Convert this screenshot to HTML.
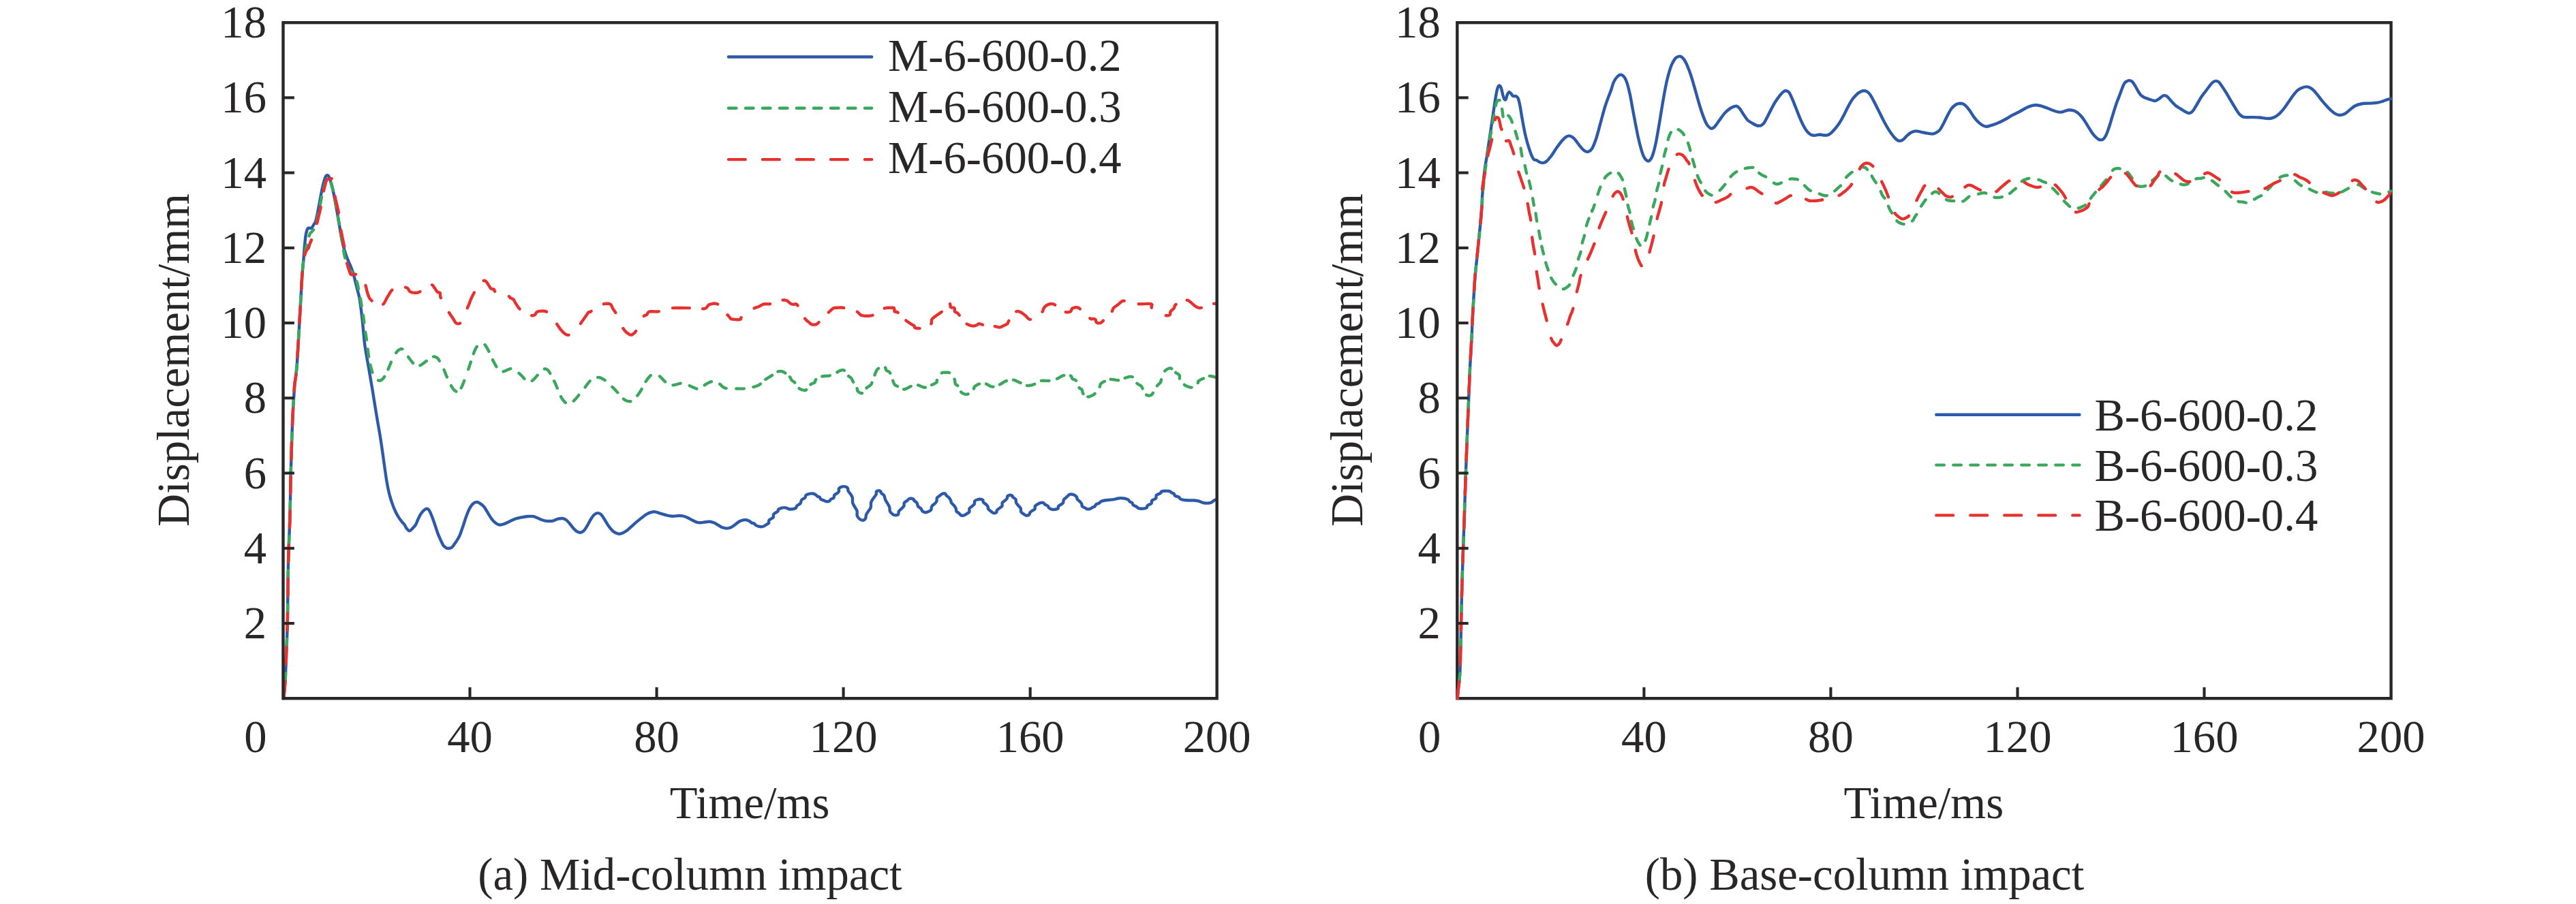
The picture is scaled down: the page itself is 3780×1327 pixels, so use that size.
<!DOCTYPE html>
<html><head><meta charset="utf-8"><title>Displacement time history</title>
<style>
html,body{margin:0;padding:0;background:#fff}
body{width:3780px;height:1327px;overflow:hidden}
svg{display:block}
svg text{font-family:"Liberation Serif",serif;font-size:66.7px;fill:#292627}
</style></head><body>
<svg width="3780" height="1327" viewBox="0 0 3780 1327">
<path d="M416.2,1025.0C416.6,1020.7 418.0,1009.8 418.6,999.0C419.2,988.2 419.7,970.0 420.1,960.0C420.5,950.0 420.7,946.5 421.0,939.0C421.3,931.5 421.6,924.9 421.8,915.0C422.0,905.1 422.1,895.4 422.3,879.5C422.5,863.6 422.7,839.6 423.2,819.7C423.7,799.8 424.8,780.1 425.4,760.0C426.0,739.9 426.2,714.1 426.6,699.0C427.0,683.9 427.2,679.2 427.5,669.2C427.8,659.2 428.0,649.2 428.4,639.3C428.8,629.3 429.1,619.5 429.6,609.5C430.1,599.5 430.9,587.1 431.4,579.6C431.8,572.1 431.8,569.7 432.3,564.7C432.8,559.7 433.8,554.7 434.4,549.7C435.0,544.7 435.4,539.8 435.8,534.8C436.2,529.8 436.2,527.4 436.7,519.9C437.1,512.4 437.4,508.6 438.5,490.0C439.6,471.4 442.0,426.2 443.1,408.1C444.3,390.1 444.7,389.7 445.4,381.6C446.0,373.5 446.5,365.7 447.1,359.5C447.7,353.2 448.2,347.9 448.9,344.0C449.6,340.1 450.4,337.8 451.1,336.2C451.8,334.7 452.3,334.9 453.3,334.7C454.3,334.4 455.9,335.5 457.1,334.7C458.3,333.8 459.4,331.2 460.4,329.6C461.4,328.0 462.1,327.9 463.1,325.2C464.0,322.4 464.9,318.0 465.9,313.0C467.0,308.0 468.1,301.2 469.2,295.3C470.4,289.4 471.5,282.8 472.6,277.6C473.7,272.4 474.9,267.6 475.9,264.3C476.9,261.1 477.7,259.3 478.5,258.1C479.4,257.0 480.0,257.0 480.8,257.3C481.5,257.6 482.1,258.0 483.0,259.9C483.8,261.8 484.8,265.1 485.8,268.8C486.9,272.4 488.1,276.9 489.2,282.0C490.3,287.2 491.4,293.8 492.5,299.7C493.6,305.6 494.7,311.2 495.8,317.4C496.9,323.7 498.0,331.1 499.1,337.3C500.2,343.6 501.3,349.9 502.4,355.0C503.5,360.2 504.6,364.4 505.8,368.3C506.9,372.2 508.0,375.3 509.1,378.3C510.2,381.2 511.3,383.4 512.4,386.0C513.5,388.6 514.6,390.8 515.7,393.8C516.8,396.7 517.9,399.8 519.0,403.7C520.1,407.6 521.2,412.6 522.3,417.0C523.5,421.4 524.7,426.4 525.7,430.3C526.6,434.1 526.9,433.2 527.9,440.0C528.9,446.8 530.6,459.8 531.8,470.8C533.0,481.8 533.7,494.4 535.3,506.2C536.9,518.0 539.3,529.8 541.3,541.6C543.3,553.4 545.3,565.2 547.3,577.0C549.2,588.8 551.0,600.6 553.0,612.4C555.0,624.2 557.0,634.9 559.0,647.8C561.0,660.7 563.6,680.2 565.0,690.0C566.4,699.8 566.5,701.1 567.5,706.6C568.4,712.1 569.7,718.5 570.8,723.2C571.9,727.9 572.9,730.9 574.1,734.8C575.4,738.7 576.6,742.6 578.3,746.4C579.9,750.3 582.0,754.6 584.1,758.0C586.1,761.5 589.2,765.2 590.7,767.2C592.2,769.1 592.2,768.3 593.2,769.7C594.2,771.0 595.3,773.9 596.5,775.5C597.8,777.1 599.3,779.1 600.7,779.3C602.0,779.4 603.3,777.8 604.8,776.3C606.3,774.8 608.4,772.7 609.8,770.5C611.2,768.3 611.9,765.6 613.1,763.0C614.3,760.4 615.7,757.1 617.3,754.7C618.8,752.4 620.8,750.2 622.2,748.9C623.7,747.6 624.8,746.8 626.0,746.8C627.3,746.8 628.4,747.0 629.7,748.9C631.0,750.8 632.5,754.6 633.8,758.0C635.2,761.5 636.6,765.6 638.0,769.7C639.4,773.7 640.8,778.4 642.1,782.1C643.5,785.8 644.9,789.0 646.3,792.1C647.7,795.1 649.1,798.3 650.4,800.4C651.8,802.4 653.2,803.4 654.6,804.2C656.0,804.9 657.4,804.9 658.7,804.8C660.1,804.8 661.4,805.0 662.9,803.7C664.4,802.4 666.1,799.7 667.9,797.0C669.7,794.4 671.9,791.6 673.7,787.9C675.5,784.2 677.0,779.3 678.7,774.6C680.3,769.9 682.0,764.3 683.6,759.7C685.3,755.1 686.9,750.6 688.6,747.3C690.3,743.9 691.8,741.5 693.6,739.8C695.4,738.1 697.6,737.1 699.4,737.0C701.2,736.8 702.6,737.8 704.4,739.0C706.2,740.1 708.2,741.6 710.2,743.9C712.1,746.3 714.1,750.0 716.0,753.1C717.9,756.1 719.9,759.7 721.8,762.2C723.7,764.7 725.7,766.6 727.6,768.0C729.5,769.4 731.5,770.3 733.4,770.5C735.4,770.7 736.9,770.2 739.2,769.3C741.6,768.5 744.8,766.8 747.5,765.5C750.3,764.2 753.1,762.7 755.8,761.7C758.6,760.7 761.1,760.3 764.1,759.7C767.2,759.1 771.0,758.3 774.1,758.0C777.1,757.8 780.2,757.8 782.4,758.0C784.6,758.3 785.4,758.9 787.3,759.7C789.3,760.5 791.8,761.9 794.0,762.7C796.2,763.5 798.4,764.3 800.6,764.7C802.8,765.1 805.3,765.1 807.3,765.0C809.2,765.0 810.3,764.9 812.2,764.3C814.2,763.8 816.7,762.2 818.9,761.7C821.1,761.1 823.6,760.8 825.5,761.0C827.5,761.2 828.8,761.9 830.5,763.0C832.2,764.2 833.5,765.8 835.5,768.0C837.4,770.2 840.2,774.2 842.1,776.3C844.0,778.4 845.4,779.6 847.1,780.4C848.7,781.3 850.4,781.9 852.1,781.6C853.7,781.3 855.4,780.5 857.0,778.8C858.7,777.1 860.4,774.1 862.0,771.3C863.7,768.5 865.3,764.8 867.0,762.2C868.7,759.6 870.3,757.1 872.0,755.5C873.6,754.0 875.3,753.1 877.0,753.1C878.6,753.0 880.3,753.5 881.9,755.1C883.6,756.6 885.3,759.6 886.9,762.2C888.6,764.8 890.0,767.7 891.9,770.5C893.8,773.3 896.5,776.8 898.5,778.8C900.6,780.8 902.7,781.8 904.3,782.6C906.0,783.4 907.0,783.8 908.5,783.8C910.0,783.8 911.4,783.6 913.5,782.6C915.5,781.6 918.2,780.1 920.9,778.0C923.7,775.8 926.9,772.4 930.1,769.7C933.2,766.9 937.0,763.8 940.0,761.4C943.1,758.9 945.6,756.7 948.3,755.1C951.1,753.4 954.4,752.3 956.6,751.7C958.8,751.1 959.4,751.0 961.6,751.4C963.8,751.8 967.1,753.1 969.9,753.9C972.7,754.7 975.3,755.7 978.2,756.4C981.0,757.0 984.1,757.6 987.0,757.7C989.9,757.8 992.8,757.1 995.3,757.0C997.8,757.0 999.7,756.9 1001.9,757.4C1004.1,757.8 1006.4,758.7 1008.6,759.7C1010.8,760.7 1013.0,762.2 1015.2,763.3C1017.4,764.5 1019.8,765.7 1021.8,766.3C1023.9,767.0 1025.4,767.3 1027.7,767.3C1029.9,767.3 1032.8,766.6 1035.1,766.3C1037.5,766.1 1039.7,765.5 1041.8,765.7C1043.8,765.8 1045.6,766.4 1047.6,767.2C1049.5,768.0 1051.3,769.3 1053.4,770.5C1055.5,771.7 1057.8,773.4 1060.0,774.3C1062.2,775.2 1064.6,775.6 1066.7,775.6C1068.7,775.6 1070.5,775.2 1072.5,774.3C1074.4,773.4 1076.2,772.0 1078.3,770.5C1080.3,769.0 1082.8,766.7 1084.9,765.5C1087.0,764.3 1088.9,763.7 1090.7,763.3C1092.5,763.0 1094.2,763.1 1095.7,763.3C1097.2,763.6 1098.6,764.3 1099.8,765.0C1101.1,765.7 1102.1,767.1 1103.2,767.7C1104.3,768.2 1105.5,767.8 1106.5,768.3C1107.5,768.9 1107.9,770.3 1109.0,771.0C1110.1,771.7 1111.7,772.3 1113.1,772.6C1114.5,773.0 1115.9,773.4 1117.3,773.3C1118.7,773.2 1120.0,772.8 1121.4,772.1C1122.8,771.5 1124.5,770.0 1125.6,769.3C1126.7,768.6 1127.6,768.9 1128.1,768.0C1128.5,767.1 1127.8,764.9 1128.4,763.8C1128.9,762.8 1130.3,762.4 1131.4,761.7C1132.4,760.9 1134.1,760.5 1134.7,759.4C1135.3,758.3 1134.5,756.2 1135.0,755.1C1135.6,753.9 1137.0,753.5 1138.0,752.7C1139.1,752.0 1140.6,751.4 1141.3,750.6C1142.0,749.7 1141.5,748.5 1142.2,747.7C1142.9,747.0 1144.1,746.5 1145.5,746.1C1146.9,745.6 1148.9,745.1 1150.5,745.1C1152.0,745.0 1153.4,745.4 1154.6,745.8C1155.9,746.1 1156.5,747.0 1157.9,747.3C1159.3,747.5 1161.2,747.5 1162.9,747.3C1164.6,747.0 1166.8,746.4 1167.9,745.6C1169.0,744.8 1168.4,743.4 1169.5,742.3C1170.6,741.2 1173.4,740.3 1174.5,739.0C1175.6,737.6 1175.1,735.4 1176.2,734.0C1177.3,732.6 1180.1,731.8 1181.2,730.7C1182.3,729.5 1181.7,727.8 1182.8,726.8C1183.9,725.9 1186.1,725.2 1187.8,724.8C1189.5,724.5 1191.3,724.3 1192.8,724.5C1194.3,724.7 1195.8,725.5 1196.9,726.2C1198.0,726.8 1198.4,727.9 1199.4,728.5C1200.4,729.1 1201.9,729.1 1202.7,729.8C1203.6,730.5 1203.3,732.0 1204.4,732.8C1205.5,733.6 1208.0,734.3 1209.4,734.8C1210.8,735.4 1211.4,736.0 1212.7,736.1C1213.9,736.3 1215.7,736.2 1216.8,735.6C1217.9,735.1 1218.2,733.6 1219.3,732.8C1220.4,732.0 1222.6,731.7 1223.5,730.7C1224.3,729.7 1223.5,727.9 1224.3,726.8C1225.1,725.7 1227.3,724.9 1228.5,724.0C1229.6,723.1 1230.5,722.6 1230.9,721.5C1231.4,720.4 1230.4,718.5 1230.9,717.4C1231.5,716.3 1233.0,715.4 1234.3,714.9C1235.5,714.3 1237.0,714.0 1238.4,714.1C1239.8,714.1 1241.6,714.7 1242.6,715.2C1243.5,715.8 1243.9,716.5 1244.2,717.4C1244.6,718.3 1243.9,719.3 1244.6,720.7C1245.2,722.1 1247.3,724.0 1248.4,725.7C1249.4,727.3 1250.4,728.6 1250.9,730.7C1251.3,732.7 1250.6,735.9 1251.2,738.1C1251.7,740.3 1253.1,742.0 1254.2,743.9C1255.2,745.9 1256.9,747.5 1257.5,749.7C1258.1,752.0 1257.3,755.3 1257.8,757.2C1258.4,759.1 1259.5,760.3 1260.8,761.4C1262.1,762.5 1264.3,763.8 1265.8,763.8C1267.3,763.8 1269.1,762.7 1269.9,761.4C1270.8,760.0 1270.4,757.3 1271.1,755.5C1271.8,753.8 1273.0,752.4 1274.1,750.6C1275.2,748.8 1277.0,747.0 1277.7,744.8C1278.4,742.6 1277.6,739.5 1278.2,737.3C1278.9,735.1 1280.3,733.4 1281.6,731.5C1282.8,729.6 1285.0,727.3 1285.7,725.7C1286.5,724.0 1285.3,722.4 1286.0,721.5C1286.7,720.6 1288.8,720.2 1289.9,720.2C1290.9,720.2 1291.8,720.9 1292.3,721.5C1292.9,722.2 1292.3,723.1 1293.2,724.0C1294.0,725.0 1296.4,725.8 1297.3,727.3C1298.3,728.9 1298.2,731.2 1299.0,733.1C1299.8,735.1 1301.2,737.0 1302.3,739.0C1303.4,740.9 1304.7,742.8 1305.3,744.8C1305.9,746.7 1305.2,748.9 1306.0,750.6C1306.7,752.2 1308.4,753.8 1309.8,754.7C1311.1,755.7 1312.5,756.3 1313.9,756.4C1315.3,756.4 1317.2,756.0 1318.1,755.1C1318.9,754.1 1318.1,752.0 1318.9,750.6C1319.7,749.1 1321.8,747.7 1323.0,746.4C1324.3,745.1 1325.7,744.2 1326.4,742.8C1327.0,741.4 1326.0,739.5 1326.9,738.1C1327.7,736.8 1330.2,735.8 1331.3,734.8C1332.5,733.8 1332.9,732.8 1333.8,732.3C1334.8,731.8 1336.0,731.7 1337.1,731.8C1338.3,731.9 1339.8,732.3 1340.5,732.8C1341.2,733.3 1340.5,733.9 1341.3,734.8C1342.1,735.7 1344.5,736.7 1345.4,738.1C1346.4,739.5 1346.1,741.7 1347.1,743.1C1348.1,744.5 1350.1,745.2 1351.3,746.4C1352.4,747.7 1352.6,749.6 1353.7,750.6C1354.9,751.5 1356.5,752.1 1357.9,752.2C1359.3,752.3 1360.7,751.7 1362.0,751.1C1363.4,750.4 1365.3,749.7 1366.2,748.4C1367.1,747.1 1366.4,744.7 1367.4,743.1C1368.3,741.5 1370.8,740.2 1372.0,739.0C1373.2,737.7 1374.0,737.0 1374.5,735.6C1375.0,734.3 1374.2,732.0 1375.0,730.7C1375.8,729.3 1378.2,728.3 1379.5,727.3C1380.8,726.4 1381.5,725.3 1382.8,724.8C1384.0,724.4 1386.0,724.1 1386.9,724.5C1387.9,724.9 1387.6,726.3 1388.6,727.3C1389.6,728.4 1391.6,729.4 1392.7,730.7C1393.8,731.9 1394.7,733.6 1395.2,734.8C1395.8,736.1 1395.2,736.9 1396.1,738.1C1396.9,739.4 1399.1,740.9 1400.2,742.3C1401.3,743.7 1402.1,745.0 1402.7,746.4C1403.3,747.8 1402.7,749.3 1403.5,750.6C1404.4,751.8 1406.6,752.9 1407.7,753.9C1408.8,754.9 1409.1,755.9 1410.2,756.4C1411.2,756.8 1412.5,757.1 1414.0,756.7C1415.5,756.3 1417.6,754.8 1419.0,753.9C1420.4,753.0 1421.7,752.6 1422.3,751.4C1422.9,750.2 1421.9,747.8 1422.6,746.4C1423.3,745.0 1425.3,744.2 1426.4,743.1C1427.6,742.0 1429.1,741.0 1429.8,739.8C1430.4,738.5 1429.6,736.7 1430.3,735.6C1431.0,734.6 1432.6,733.9 1433.9,733.5C1435.2,733.0 1436.7,732.7 1438.1,732.8C1439.4,732.9 1441.4,733.2 1442.2,734.0C1443.0,734.7 1442.2,736.2 1443.0,737.3C1443.9,738.4 1446.1,739.5 1447.2,740.6C1448.3,741.7 1449.2,742.8 1449.7,743.9C1450.2,745.0 1449.3,746.1 1450.2,747.3C1451.0,748.4 1453.4,750.1 1454.7,751.1C1456.0,752.0 1456.7,752.9 1458.0,753.1C1459.2,753.3 1461.3,752.9 1462.1,752.2C1463.0,751.5 1462.1,750.0 1463.0,748.9C1463.8,747.8 1465.9,746.6 1467.1,745.6C1468.3,744.6 1469.8,744.3 1470.4,743.1C1471.0,741.9 1470.1,739.5 1470.8,738.1C1471.4,736.7 1473.4,735.9 1474.6,734.8C1475.8,733.7 1477.3,732.6 1477.9,731.5C1478.5,730.4 1477.7,728.9 1478.4,728.2C1479.1,727.4 1480.9,726.9 1482.0,726.8C1483.2,726.8 1484.7,727.3 1485.4,727.8C1486.0,728.3 1485.4,729.0 1486.2,729.8C1487.0,730.7 1489.5,731.4 1490.3,732.8C1491.2,734.2 1490.5,736.5 1491.2,738.1C1491.9,739.7 1493.4,740.9 1494.5,742.3C1495.6,743.7 1497.2,744.9 1497.8,746.4C1498.4,747.9 1497.6,750.1 1498.3,751.4C1499.0,752.7 1500.7,753.5 1502.0,754.4C1503.3,755.3 1504.7,756.5 1506.1,756.7C1507.5,756.9 1509.3,756.3 1510.2,755.5C1511.2,754.8 1510.7,753.3 1511.6,752.2C1512.4,751.2 1514.1,750.2 1515.2,749.4C1516.4,748.6 1517.9,748.4 1518.5,747.3C1519.2,746.1 1518.2,744.0 1518.9,742.8C1519.6,741.6 1521.4,740.9 1522.7,740.1C1524.0,739.3 1525.5,738.5 1526.8,738.1C1528.2,737.8 1529.9,737.7 1531.0,738.1C1532.1,738.5 1532.4,739.8 1533.5,740.6C1534.6,741.4 1536.7,741.9 1537.6,742.8C1538.6,743.6 1538.3,744.8 1539.3,745.6C1540.3,746.4 1541.9,747.4 1543.4,747.7C1545.0,748.1 1546.9,748.0 1548.4,747.7C1549.9,747.5 1551.8,747.2 1552.6,746.4C1553.3,745.6 1552.4,744.1 1553.1,743.1C1553.8,742.1 1555.6,741.4 1556.7,740.6C1557.9,739.8 1559.3,739.3 1560.0,738.1C1560.7,736.9 1560.2,734.7 1560.9,733.5C1561.6,732.2 1563.1,731.7 1564.2,730.7C1565.3,729.6 1566.5,728.2 1567.5,727.3C1568.5,726.5 1569.0,726.0 1570.0,725.7C1571.0,725.4 1572.1,725.4 1573.3,725.7C1574.6,726.0 1576.4,726.7 1577.5,727.3C1578.6,728.0 1579.4,728.6 1579.9,729.5C1580.5,730.4 1579.9,731.7 1580.8,732.8C1581.6,734.0 1583.8,735.3 1584.9,736.5C1586.0,737.6 1586.9,738.7 1587.4,739.8C1587.9,740.9 1587.1,742.1 1587.9,743.1C1588.7,744.1 1591.1,744.9 1592.4,745.6C1593.7,746.3 1594.5,747.1 1595.7,747.3C1597.0,747.4 1598.6,747.2 1599.9,746.8C1601.1,746.3 1602.1,745.3 1603.2,744.8C1604.3,744.2 1605.7,744.1 1606.5,743.4C1607.3,742.7 1607.1,741.4 1608.2,740.6C1609.3,739.8 1611.9,739.2 1613.1,738.5C1614.4,737.7 1614.2,736.8 1615.6,736.1C1617.0,735.5 1619.4,734.9 1621.4,734.5C1623.5,734.1 1625.9,734.0 1628.1,733.8C1630.3,733.6 1632.5,733.5 1634.7,733.1C1636.9,732.8 1639.4,731.8 1641.3,731.5C1643.3,731.2 1644.7,731.1 1646.3,731.2C1648.0,731.2 1649.8,731.4 1651.3,731.8C1652.8,732.2 1654.3,732.7 1655.5,733.5C1656.6,734.3 1657.0,735.7 1657.9,736.5C1658.9,737.2 1660.4,737.3 1661.3,738.1C1662.1,739.0 1661.8,740.5 1662.9,741.4C1664.0,742.4 1666.7,743.2 1667.9,743.9C1669.1,744.7 1669.3,745.6 1670.4,746.1C1671.5,746.6 1673.0,746.7 1674.5,746.8C1676.1,746.8 1678.1,746.7 1679.5,746.4C1680.9,746.1 1682.1,745.8 1682.8,745.1C1683.5,744.4 1682.6,743.3 1683.7,742.3C1684.8,741.3 1688.4,740.2 1689.5,739.0C1690.6,737.7 1689.2,736.1 1690.3,734.8C1691.4,733.6 1695.0,732.8 1696.1,731.5C1697.2,730.2 1695.8,728.1 1696.9,726.8C1698.0,725.6 1701.5,724.9 1702.7,724.0C1704.0,723.1 1703.3,722.1 1704.4,721.5C1705.5,721.0 1707.5,720.8 1709.4,720.7C1711.3,720.6 1714.4,720.6 1716.0,721.0C1717.7,721.4 1718.2,722.6 1719.3,723.2C1720.4,723.8 1721.8,724.1 1722.7,724.8C1723.5,725.6 1723.1,727.0 1724.3,727.8C1725.6,728.7 1728.9,729.1 1730.1,729.8C1731.4,730.6 1730.5,731.6 1731.8,732.3C1733.0,733.0 1735.5,733.6 1737.6,734.0C1739.7,734.3 1741.7,734.4 1744.2,734.5C1746.7,734.6 1750.0,734.3 1752.5,734.5C1755.0,734.7 1757.0,735.0 1759.2,735.6C1761.4,736.2 1763.9,737.6 1765.8,738.1C1767.7,738.6 1769.1,738.6 1770.8,738.6C1772.4,738.6 1774.4,738.5 1775.8,738.1C1777.1,737.8 1778.1,737.1 1779.1,736.5C1780.1,735.9 1780.6,735.0 1781.6,734.5C1782.5,734.0 1784.3,733.6 1784.9,733.5" fill="none" stroke="#2c5aa8" stroke-width="4.4" stroke-linecap="round" stroke-linejoin="round"/>
<path d="M416.2,1025.0l.3 -3.3l.5 -4.6l.6 -5.5l.5 -6.2l.5 -6.4l.4 -7.3l.3 -8.2l.3 -8.6l.3 -8.0l.2 -6.9l.2 -5.3l.2 -4.3l.2 -3.6l.1 -3.7l.2 -4.1l.2 -4.4l.1 -4.4l.2 -4.6l.2 -5.0l.1 -5.6l.1 -6.0l.1 -6.2l.1 -6.8l.1 -7.7l.1 -8.8l.1 -10.4l.2 -11.8l.1 -12.5l.2 -12.8l.3 -12.3l.4 -11.9l.4 -11.9l.5 -11.9l.5 -12.0l.4 -12.0l.3 -12.6l.3 -13.2l.2 -13.0l.2 -12.0l.2 -10.2l.2 -8.0l.2 -6.2l.2 -5.2l.1 -4.9l.2 -5.5l.2 -6.0l.1 -6.0l.2 -5.9l.2 -6.0l.2 -6.0l.2 -6.0l.2 -5.9l.3 -6.0l.2 -5.9l.3 -6.0l.3 -6.2l.4 -6.5l.4 -6.3l.4 -5.9l.3 -5.0l.2 -3.9l.2 -3.1l.1 -2.7l.2 -2.5l.2 -2.7l.4 -3.0l.4 -3.0l.5 -3.0l.4 -3.0l.4 -3.0l.3 -3.0l.3 -3.0l.3 -2.9l.3 -3.0l.2 -3.0l.2 -2.7l.2 -2.5l.1 -2.7l.2 -3.1l.2 -3.9l.3 -4.2l.2 -4.2l.3 -5.1l.4 -6.9l.6 -9.5l.8 -13.9l1.0 -17.8l1.0 -19.0l1.0 -17.6l.8 -13.6l.6 -8.9l.5 -6.0l.4 -4.1l.4 -3.2l.4 -3.2l.3 -2.9l.3 -1.9l.3 -1.5l.4 -1.6l.4 -2.1l.6 -2.8l.7 -3.3l.7 -3.4l.7 -3.3l.6 -2.6l.6 -2.1l.4 -1.7l.4 -1.3l.4 -1.3l.5 -1.4l.4 -1.5l.4 -1.4l.5 -1.4l.4 -1.3l.5 -1.0l.4 -.7l.4 -.5l.4 -.3l.5 -.3l.5 -.4l.6 -.7l.6 -.7l.7 -.7l.7 -.8l.7 -.9l.7 -.7l.6 -.7l.7 -.8l.7 -1.1l.6 -1.8l.7 -2.6l.6 -3.1l.7 -3.6l.7 -3.7l.6 -3.6l.7 -3.5l.7 -3.5l.6 -3.6l.7 -3.6l.7 -3.5l.6 -3.4l.6 -3.4l.7 -3.3l.6 -3.3l.8 -3.2l.8 -3.1l.9 -3.2l1.0 -3.0l.9 -2.8l.8 -2.3l.7 -1.8l.7 -1.4l.7 -1.1l.6 -.8l.6 -.4l.6 0l.6 .3l.6 .7l.5 .8l.6 1.1l.5 1.2l.5 1.4l.5 1.7l.6 1.8l.5 2.1l.7 2.3l.6 2.5l.7 2.7l.7 2.8l.7 3.0l.6 3.0l.5 3.2l.6 3.4l.6 3.4l.5 3.5l.6 3.6l.7 3.8l.6 3.7l.6 3.9l.6 3.9l.7 3.9l.7 4.0l.6 4.0l.7 4.0l.7 4.0l.6 3.8l.7 3.8l.7 3.8l.6 3.7l.7 3.7l.6 3.7l.6 3.7l.6 3.7l.6 3.5l.7 3.1l.7 2.7l.7 2.3l.7 2.2l.7 1.9l.7 1.9l.7 1.9l.7 1.7l.6 1.6l.7 1.4l.6 1.2l.6 .8l.6 .4l.6 .3l.7 .6l.9 1.2l1.2 2.0l1.5 2.5l1.6 2.8l1.4 2.9l1.3 2.7l.8 2.5l.7 2.4l.5 2.4l.5 2.5l.6 2.8l.6 3.1l.7 3.2l.6 3.4l.6 3.6l.7 3.5l.6 3.7l.6 3.7l.7 3.9l.6 3.8l.6 3.8l.6 3.8l.5 3.8l.4 3.8l.5 3.8l.5 3.8l.6 3.8l.5 3.8l.6 3.9l.6 3.7l.5 3.7l.4 3.5l.5 3.5l.4 3.3l.4 3.3l.4 3.2l.4 3.1l.4 3.0l.4 3.0l.4 2.8l.5 2.8l.5 2.7l.7 2.6l.6 2.6l.7 2.4l.6 2.3l.6 2.2l.6 2.0l.6 1.9l.6 1.8l.8 1.6l.9 1.4l1.0 1.4l1.1 1.1l1.1 1.0l1.1 .7l1.1 .6l1.0 .3l1.1 .2l1.0 -.1l1.1 -.3l1.0 -.6l1.1 -.9l1.0 -1.0l1.1 -1.3l1.0 -1.5l1.1 -1.7l1.0 -2.0l1.1 -2.2l1.0 -2.3l1.1 -2.3l1.0 -2.4l1.0 -2.5l1.1 -2.6l1.0 -2.6l1.1 -2.5l1.3 -2.5l1.2 -2.5l1.4 -2.4l1.2 -2.3l1.2 -1.9l1.2 -1.5l1.0 -1.3l1.1 -1.0l1.0 -.8l1.0 -.6l1.0 -.5l1.0 -.4l1.0 -.1l1.1 .2l1.2 .8l1.3 1.4l1.4 2.1l1.6 2.4l1.5 2.4l1.5 2.2l1.5 2.0l1.5 2.1l1.5 2.0l1.5 1.8l1.4 1.6l1.3 1.2l1.3 1.1l1.2 .9l1.2 .6l1.3 .4l1.2 0l1.2 -.2l1.2 -.5l1.3 -.7l1.4 -.7l1.5 -1.1l1.7 -1.2l1.7 -1.4l1.8 -1.4l1.7 -1.3l1.7 -1.2l1.8 -1.3l1.7 -1.2l1.6 -.9l1.6 -.6l1.4 -.1l1.4 .2l1.2 .5l1.2 .7l1.1 .8l1.0 .9l.8 1.1l.7 1.3l.8 1.4l.9 1.6l1.0 1.8l1.0 2.0l1.1 2.2l1.1 2.2l1.1 2.3l1.0 2.4l1.0 2.5l1.0 2.6l1.1 2.6l1.1 2.5l1.2 2.7l1.4 2.7l1.3 2.7l1.3 2.5l1.1 2.0l1.0 1.6l.8 1.2l.8 1.0l.8 .8l.8 .7l.8 .7l.9 .7l.8 .5l.8 .3l.9 -.1l1.0 -.5l1.1 -.7l1.0 -1.1l1.1 -1.3l1.1 -1.7l1.0 -2.0l1.1 -2.4l1.0 -2.6l1.1 -2.8l1.0 -2.8l1.1 -2.8l1.1 -3.0l1.1 -3.1l1.0 -2.9l1.0 -2.9l.9 -2.6l.8 -2.6l.9 -2.5l.8 -2.4l.8 -2.5l.8 -2.6l.9 -2.6l.8 -2.7l.9 -2.5l.8 -2.2l.8 -2.0l.8 -1.8l.8 -1.7l.9 -1.5l.9 -1.4l1.0 -1.4l1.0 -1.3l1.0 -1.2l1.1 -.8l1.2 -.6l1.1 -.2l1.3 .1l1.3 .4l1.3 .8l1.3 1.0l1.2 1.6l1.3 2.0l1.3 2.3l1.3 2.3l1.2 2.3l1.1 2.3l1.0 2.3l1.0 2.3l1.0 2.4l1.1 2.3l1.2 2.4l1.3 2.5l1.3 2.4l1.3 2.3l1.2 2.0l1.1 1.7l1.1 1.5l1.0 1.3l1.0 1.0l1.1 .8l.9 .3l.9 .1l.9 -.2l1.1 -.4l1.4 -.5l2.0 -.7l2.5 -1.1l2.5 -1.1l2.5 -.9l2.1 -.4l1.6 .3l1.3 .6l1.1 .9l1.1 1.0l1.2 1.0l1.2 .9l1.3 1.0l1.2 1.0l1.3 1.1l1.3 1.3l1.4 1.4l1.6 1.7l1.5 1.8l1.5 1.6l1.4 1.2l1.1 1.0l1.1 .7l1.0 .6l1.0 .3l1.0 .2l1.0 0l1.0 -.2l.9 -.4l1.1 -.6l1.3 -.9l1.5 -1.4l1.8 -1.9l1.8 -2.1l1.7 -2.0l1.6 -1.7l1.2 -1.4l1.1 -1.2l1.0 -1.2l.9 -1.0l1.0 -.8l1.1 -.8l1.0 -.6l1.1 -.5l1.0 -.3l1.1 .1l1.0 .3l1.1 .6l1.0 .8l1.1 1.1l1.0 1.4l1.1 1.7l1.1 2.3l1.1 2.3l1.1 2.3l.9 1.9l.7 1.2l.6 .9l.5 .7l.6 1.0l.7 1.4l1.0 2.1l1.0 2.6l1.2 2.8l1.1 2.7l1.0 2.4l.9 2.2l.8 2.0l.8 1.8l.8 1.8l.9 1.7l1.0 1.6l1.1 1.6l1.1 1.4l1.1 1.3l1.0 1.0l.8 .8l.9 .6l.8 .4l.8 .2l.9 .1l.9 0l1.1 -.2l1.1 -.4l1.0 -.5l1.1 -.6l1.0 -.6l1.0 -.6l1.0 -.8l1.1 -1.0l1.2 -1.2l1.3 -1.4l1.5 -1.7l1.5 -1.9l1.5 -1.9l1.5 -1.9l1.5 -1.8l1.5 -1.8l1.4 -1.8l1.5 -1.8l1.5 -1.8l1.4 -2.0l1.5 -2.0l1.5 -2.1l1.5 -1.8l1.4 -1.6l1.5 -1.2l1.5 -1.0l1.5 -.8l1.5 -.6l1.4 -.6l1.3 -.5l1.2 -.4l1.2 -.2l1.2 -.1l1.4 .2l1.6 .4l1.7 .8l1.8 .9l1.7 1.0l1.6 1.1l1.4 1.1l1.3 1.3l1.3 1.4l1.1 1.3l1.2 1.2l1.1 .9l.9 .7l1.0 .7l1.0 .8l1.3 1.1l1.4 1.5l1.7 1.8l1.8 1.9l1.7 1.9l1.8 1.9l1.7 1.9l1.7 2.0l1.7 1.9l1.7 1.7l1.6 1.3l1.6 1.0l1.5 .7l1.6 .4l1.4 .3l1.2 .2l1.1 .1l.8 -.1l.8 -.2l.7 -.3l.8 -.4l.9 -.5l.8 -.7l.8 -.7l.8 -.9l.9 -1.0l1.0 -1.0l1.1 -1.2l1.0 -1.3l1.1 -1.3l1.1 -1.5l1.0 -1.5l1.0 -1.5l1.1 -1.7l1.0 -1.8l1.1 -1.9l1.2 -2.1l1.2 -2.4l1.3 -2.5l1.3 -2.4l1.4 -2.1l1.4 -2.0l1.5 -1.9l1.6 -1.8l1.5 -1.5l1.3 -1.2l1.2 -1.0l1.0 -.6l1.0 -.5l1.0 -.1l1.1 .1l1.1 .3l1.2 .7l1.2 .9l1.4 1.1l1.4 1.2l1.5 1.4l1.8 1.8l1.8 1.9l1.7 1.8l1.6 1.5l1.4 1.1l1.2 1.0l1.3 .9l1.2 .6l1.2 .6l1.2 .4l1.0 .2l1.2 .2l1.3 0l1.6 -.2l2.0 -.4l2.4 -.6l2.6 -.7l2.4 -.7l2.1 -.3l1.8 -.1l1.6 .1l1.4 .3l1.3 .3l1.3 .4l1.1 .5l.9 .6l.9 .6l1.0 .7l1.4 .8l1.8 .8l2.2 1.0l2.4 1.0l2.2 .9l1.9 .5l1.3 .2l1.1 -.1l.9 -.2l.9 -.4l1.0 -.6l1.2 -.8l1.2 -1.0l1.2 -1.2l1.3 -1.2l1.4 -1.0l1.6 -1.0l1.7 -1.0l1.8 -.9l1.7 -.8l1.6 -.5l1.4 -.3l1.3 -.2l1.2 0l1.2 .2l1.2 .3l1.3 .4l1.3 .5l1.3 .7l1.3 .8l1.1 .7l1.1 .9l1.0 1.0l.9 1.0l1.0 1.0l1.1 .8l1.1 .6l1.0 .5l1.2 .4l1.3 .3l1.7 .3l2.1 .1l2.5 .1l2.7 0l2.7 0l2.6 0l2.5 0l2.6 .1l2.5 0l2.5 0l2.5 -.1l2.6 -.3l2.6 -.4l2.6 -.5l2.5 -.6l2.3 -.5l2.1 -.6l2.0 -.6l1.8 -.7l1.8 -.7l1.8 -1.0l1.7 -1.3l1.7 -1.5l1.7 -1.6l1.6 -1.6l1.7 -1.4l1.7 -1.2l1.7 -1.0l1.6 -1.0l1.7 -1.0l1.7 -1.0l1.7 -1.2l1.8 -1.3l1.8 -1.2l1.6 -1.1l1.5 -.9l1.3 -.6l1.0 -.3l1.0 -.3l1.0 0l1.0 -.1l1.0 0l.9 .1l1.0 .2l1.1 .4l1.2 .6l1.6 1.0l1.8 1.4l1.9 1.5l1.7 1.5l1.4 1.3l1.0 1.2l.6 1.1l.5 1.1l.5 1.0l.6 .9l.7 .7l.8 .4l.8 .5l.9 .6l1.0 .9l1.1 1.5l1.3 1.8l1.3 1.9l1.4 1.8l1.2 1.4l1.1 1.0l1.1 .6l1.0 .4l1.0 .3l1.0 .3l1.1 .2l1.0 .3l1.0 .1l1.1 -.1l1.1 -.5l1.2 -1.2l1.2 -1.6l1.3 -1.9l1.3 -1.7l1.3 -1.4l1.3 -.9l1.4 -.7l1.4 -.5l1.2 -.5l1.0 -.6l.5 -.7l.2 -.9l0 -.8l.3 -.9l.7 -.9l1.3 -.9l1.6 -1.1l1.8 -1.0l2.1 -.9l2.0 -.7l2.2 -.4l2.3 -.2l2.4 -.1l2.4 -.1l2.3 -.5l2.2 -.7l2.4 -1.0l2.2 -1.0l2.0 -1.0l1.7 -.9l1.2 -.7l.8 -.5l.7 -.5l.6 -.5l.9 -.3l1.1 -.4l1.3 -.4l1.3 -.3l1.4 0l1.2 .5l1.1 1.0l1.1 1.5l1.0 1.7l1.0 1.7l1.0 1.4l1.1 1.0l1.2 .9l1.1 .7l1.0 .8l.9 .8l.7 .9l.4 .9l.5 1.0l.4 1.1l.7 1.4l1.1 1.7l1.2 2.0l1.3 2.1l1.2 2.0l.9 1.6l.4 1.2l.1 .9l0 .8l.1 .6l.5 .7l.9 .9l1.2 1.0l1.4 .8l1.4 .5l1.4 0l1.2 -.9l1.3 -1.4l1.3 -1.8l1.2 -1.8l1.3 -1.5l1.3 -1.1l1.4 -1.0l1.4 -.8l1.2 -.9l1.0 -.8l.6 -.7l.4 -.5l.3 -.6l.3 -.8l.5 -1.2l.6 -1.7l.8 -2.2l.9 -2.4l.8 -2.2l.7 -2.0l.5 -1.6l.5 -1.3l.5 -1.2l.5 -1.2l.5 -1.0l.5 -.9l.6 -.9l.6 -.7l.7 -.7l.7 -.6l1.0 -.5l1.0 -.6l1.1 -.4l1.1 -.4l1.1 -.2l1.0 -.1l1.0 0l1.0 .1l.9 .3l.7 .4l.5 .6l.2 .8l.2 1.0l.3 .9l.5 .9l.8 .6l1.1 .5l1.2 .5l1.1 .7l1.1 1.2l.9 1.9l.9 2.3l.8 2.5l.8 2.4l.8 2.1l.6 1.6l.5 1.4l.5 1.3l.5 1.1l.6 .9l.6 .6l.5 .4l.6 .2l.8 .4l1.1 .5l1.5 .9l1.8 1.2l2.1 1.3l2.0 1.0l2.0 .4l2.0 -.2l2.0 -.7l2.0 -1.0l1.9 -1.0l1.6 -.9l1.3 -.7l1.0 -.8l1.0 -.7l.9 -.5l1.0 -.4l1.2 -.2l1.1 0l1.2 .2l1.3 .2l1.5 .4l1.9 .6l2.1 1.0l2.2 .9l2.2 .8l2.1 .3l2.0 -.3l2.0 -.6l1.9 -.9l1.9 -.9l1.7 -.9l1.7 -.7l1.7 -.8l1.6 -.7l1.3 -.8l1.1 -.8l.5 -.7l.1 -.7l-.1 -.7l.1 -.9l.4 -1.2l.9 -1.7l1.3 -2.1l1.3 -2.2l1.5 -2.0l1.3 -1.4l1.3 -.8l1.2 -.4l1.3 0l1.3 .1l1.2 0l1.3 0l1.2 -.1l1.3 .1l1.3 .4l1.2 .7l1.4 1.2l1.4 1.6l1.4 1.9l1.2 1.9l.9 1.8l.6 1.6l.3 1.6l.1 1.5l.1 1.4l.4 1.2l.6 .8l.7 .5l.8 .4l.9 .6l.8 .9l.8 1.4l.7 1.8l.8 1.9l.9 1.8l1.0 1.5l1.1 1.1l1.3 .9l1.3 .7l1.4 .5l1.2 .4l1.1 .2l1.0 0l.9 -.1l1.1 -.4l1.1 -.6l1.5 -1.0l1.6 -1.5l1.7 -1.6l1.5 -1.6l1.1 -1.2l.5 -.9l.1 -.6l-.1 -.5l0 -.5l.6 -.7l1.0 -.8l1.3 -1.0l1.6 -.9l1.7 -.9l1.7 -.6l1.8 -.3l1.8 -.2l2.0 0l1.9 .2l2.0 .3l1.8 .7l1.9 1.1l1.9 1.1l1.9 .9l1.9 .4l2.1 -.1l2.1 -.5l2.2 -.8l2.1 -.8l2.0 -.9l2.0 -1.0l1.8 -1.1l1.9 -1.2l1.8 -1.1l2.0 -.9l2.0 -.6l2.1 -.6l2.1 -.4l2.2 -.2l2.1 .1l2.1 .5l2.2 .8l2.1 1.0l2.1 1.0l2.0 .9l1.9 1.0l1.9 1.0l1.8 1.0l1.9 .8l2.0 .4l2.2 .1l2.3 -.3l2.5 -.5l2.3 -.6l2.2 -.8l2.0 -.9l1.8 -1.1l1.8 -1.2l1.8 -1.1l2.1 -.7l2.3 -.3l2.6 .1l2.6 .2l2.7 .1l2.4 -.1l2.2 -.3l2.2 -.5l2.1 -.6l2.0 -.6l2.0 -.7l1.9 -.9l1.9 -1.1l1.9 -1.2l1.8 -1.0l2.0 -.7l2.1 -.3l2.3 -.2l2.3 0l2.1 .2l1.7 .3l1.0 .7l.7 1.0l.4 1.2l.4 1.1l.6 .9l1.0 .5l1.0 .4l1.1 .3l1.2 .5l1.0 1.0l.9 1.6l.8 2.2l.8 2.3l.9 2.1l.8 1.7l.9 1.0l.9 .6l.9 .4l.8 .4l.7 .7l.5 1.1l.3 1.3l.2 1.4l.4 1.4l.7 1.1l1.0 1.1l1.2 1.1l1.4 .9l1.4 .7l1.3 .4l1.2 .1l1.3 -.2l1.2 -.4l1.2 -.6l1.2 -.5l1.1 -.5l1.0 -.6l1.0 -.6l1.1 -.8l1.1 -1.1l1.3 -1.5l1.4 -1.9l1.4 -2.1l1.2 -1.9l1.0 -1.6l.5 -1.3l.2 -1.0l.1 -.8l.2 -.8l.5 -.8l.8 -.8l1.1 -.8l1.2 -.7l1.3 -.8l1.4 -.7l1.5 -.7l1.6 -.7l1.6 -.7l1.8 -.5l2.0 -.3l2.2 .1l2.5 .3l2.5 .5l2.4 .4l1.9 .2l1.5 -.2l1.1 -.4l.9 -.6l.8 -.5l1.0 -.4l1.0 -.4l1.0 -.3l1.0 -.2l1.1 -.3l1.1 -.3l1.2 -.4l1.3 -.4l1.3 -.4l1.3 -.3l1.2 -.2l1.1 -.1l1.1 0l1.0 .1l1.1 .3l1.0 .8l1.0 1.2l1.0 1.8l1.1 2.0l1.0 1.8l1.1 1.6l1.3 1.1l1.4 .9l1.4 .7l1.2 .7l1.0 .8l.7 .6l.3 .6l.3 .6l.3 .7l.5 1.1l.9 1.5l1.0 2.1l1.1 2.1l1.1 1.9l1.2 1.4l1.2 .8l1.3 .4l1.4 .2l1.3 -.1l1.1 -.3l1.0 -.4l.8 -.6l.8 -.9l.7 -1.0l.9 -1.3l1.0 -1.6l1.0 -2.0l1.1 -2.1l1.1 -2.0l1.1 -1.7l1.1 -1.4l1.2 -1.1l1.1 -.9l1.0 -1.0l.8 -.9l.4 -.8l.2 -.7l0 -.7l.1 -.9l.4 -1.1l.7 -1.5l.9 -1.7l.9 -1.9l1.0 -1.8l.7 -1.5l.3 -1.2l.1 -.9l.1 -.9l.3 -.8l.6 -.8l1.2 -1.0l1.6 -1.1l1.8 -.9l1.8 -.7l1.6 -.1l1.6 .7l1.5 1.2l1.5 1.6l1.4 1.5l1.4 1.3l1.3 1.0l1.3 .8l1.2 .7l1.1 .8l.8 .9l.3 1.1l0 1.1l-.1 1.1l0 1.3l.4 1.3l.9 1.5l1.2 1.7l1.3 1.7l1.5 1.6l1.4 1.3l1.4 1.0l1.6 .9l1.5 .7l1.5 .5l1.4 .5l1.1 .3l1.0 .2l1.0 0l1.0 -.1l1.1 -.4l1.4 -.9l1.7 -1.1l1.7 -1.4l1.5 -1.3l1.1 -1.0l.5 -.8l0 -.6l-.1 -.6l.1 -.5l.5 -.7l1.1 -.7l1.4 -.8l1.5 -.7l1.7 -.8l1.7 -.8l1.5 -.8l1.7 -.9l1.6 -.8l1.7 -.7l1.9 -.3l2.1 .1l2.4 .4l2.4 .6l2.1 .6l1.5 .4" fill="none" stroke="#3aa85c" stroke-width="4.4" stroke-linecap="round" stroke-linejoin="round" stroke-dasharray="11.50 13.70 11.50 13.70 11.50 13.70 11.50 13.70 11.50 13.70 11.50 13.70 11.50 13.70 11.50 13.70 11.50 13.70 11.50 13.70 11.50 13.70 11.50 13.70 11.50 13.70 11.50 13.70 11.50 13.70 11.50 13.70 11.50 13.70 11.50 13.70 11.50 13.70 11.50 13.70 11.50 13.70 11.50 13.70 11.50 13.70 11.50 13.70 11.50 13.70 11.50 13.70 11.50 13.70 11.50 13.70 11.50 13.70 11.50 13.70 11.50 13.70 11.50 13.70 11.50 13.70 11.50 13.70 11.50 13.70 11.50 13.70 11.50 13.70 11.50 13.70 11.50 13.70 11.50 13.70 11.50 13.63 11.50 12.01 11.50 15.08 11.50 12.09 11.50 15.34 11.50 14.57 11.50 11.94 11.50 12.03 11.50 14.76 11.50 13.94 11.50 10.13 11.50 17.77 11.50 12.73 11.50 14.83 11.50 13.48 11.50 13.95 11.50 14.59 11.50 13.01 11.50 13.87 11.50 12.61 11.50 13.38 11.50 13.16 11.50 14.78 11.50 12.93 11.50 14.57 11.50 12.64 11.50 13.18 11.50 12.60 11.50 15.79 11.50 12.79 11.50 14.06 11.50 13.40 11.50 13.11 11.50 14.76 11.50 13.92 11.50 9.90 11.50 9.97 11.50 8.80 11.50 10.48 11.50 9.93 11.50 10.26 11.50 11.69 11.50 10.49 11.50 10.76 11.50 10.05 11.50 11.87 11.50 10.74 11.50 11.52 11.50 10.26 11.50 11.33 11.50 9.90 11.50 12.65 11.50 12.24 11.50 10.47 11.50 11.46 11.50 10.12 11.50 9.91 11.50 10.12 11.50 10.30 11.50 11.08 11.50 12.00 11.50 9.79 11.50 11.28 11.50 8.22 11.50 12.39 11.50 9.50 11.50 10.18 11.50 11.71 11.50 10.82 11.50 12.04 11.50 13.64 11.50 8.37 11.50 11.70 11.50 11.48 11.50 9.53 11.50 13.50 11.50 13.50"/>
<path d="M416.2,1025.0l.3 -3.3l.5 -4.6l.6 -5.5l.5 -6.2l.5 -6.4l.4 -7.3l.3 -8.2l.3 -8.6l.3 -8.0l.2 -6.9l.2 -5.3l.2 -4.3l.2 -3.6l.1 -3.7l.2 -4.1l.2 -4.4l.1 -4.4l.2 -4.6l.2 -5.0l.1 -5.6l.1 -6.0l.1 -6.2l.1 -6.8l.1 -7.7l.1 -8.8l.1 -10.4l.2 -11.8l.1 -12.5l.2 -12.8l.3 -12.3l.4 -11.9l.4 -11.9l.5 -11.9l.5 -12.0l.4 -12.0l.3 -12.6l.3 -13.2l.2 -13.0l.2 -12.0l.2 -10.2l.2 -8.0l.2 -6.2l.2 -5.2l.1 -4.9l.2 -5.5l.2 -6.0l.1 -6.0l.2 -5.9l.2 -6.0l.2 -6.0l.2 -6.0l.2 -5.9l.3 -6.0l.2 -5.9l.3 -6.0l.3 -6.2l.4 -6.5l.4 -6.3l.4 -5.9l.3 -5.0l.2 -3.9l.2 -3.1l.1 -2.7l.2 -2.5l.2 -2.7l.4 -3.0l.4 -3.0l.5 -3.0l.4 -3.0l.4 -3.0l.3 -3.0l.3 -3.0l.3 -2.9l.3 -3.0l.2 -3.0l.2 -2.7l.2 -2.5l.1 -2.7l.2 -3.1l.2 -3.9l.3 -4.2l.2 -4.2l.3 -5.1l.4 -6.9l.6 -9.5l.8 -14.0l1.0 -17.8l1.0 -19.0l1.0 -17.5l.8 -13.6l.6 -8.8l.5 -5.8l.4 -3.8l.4 -2.9l.4 -3.0l.3 -2.8l.4 -2.0l.3 -1.4l.3 -1.3l.4 -1.3l.4 -1.5l.4 -1.5l.5 -1.3l.4 -1.2l.5 -1.2l.6 -1.0l.7 -.8l.8 -.8l.6 -.8l.7 -1.0l.5 -1.2l.4 -1.4l.5 -1.5l.4 -1.4l.4 -1.1l.3 -.9l.4 -.7l.3 -.6l.3 -.7l.4 -1.1l.5 -1.6l.5 -1.8l.6 -2.0l.5 -2.0l.6 -1.9l.6 -1.9l.5 -1.8l.6 -1.8l.6 -1.7l.6 -1.7l.5 -1.3l.5 -1.2l.5 -1.1l.6 -1.3l.5 -1.7l.7 -2.3l.7 -2.7l.7 -2.9l.6 -2.8l.6 -2.6l.6 -2.1l.4 -1.9l.4 -1.9l.4 -1.9l.5 -2.1l.4 -2.5l.4 -2.7l.5 -2.8l.4 -2.7l.5 -2.6l.4 -2.3l.4 -2.2l.4 -2.1l.5 -2.2l.5 -2.3l.6 -2.6l.7 -2.9l.7 -3.0l.7 -2.6l.6 -2.1l.5 -1.6l.4 -1.0l.4 -.8l.4 -.6l.5 -.5l.6 -.3l.6 -.2l.7 0l.7 0l.7 .1l.9 -.2l1.0 -.3l.9 -.1l.9 .2l.8 1.1l.4 2.0l.4 2.8l.2 3.3l.2 3.2l.3 2.8l.3 2.3l.4 2.0l.3 1.9l.4 1.8l.4 2.0l.4 1.9l.4 1.8l.4 1.9l.5 2.0l.5 2.3l.6 2.6l.7 2.9l.7 3.0l.7 3.0l.6 2.9l.5 2.7l.3 2.7l.4 2.7l.3 2.6l.3 2.6l.3 2.5l.3 2.5l.3 2.4l.3 2.4l.3 2.3l.4 2.3l.4 2.1l.5 2.2l.5 2.2l.4 2.3l.5 2.5l.6 2.7l.5 2.7l.6 2.7l.5 2.7l.5 2.7l.4 2.7l.5 2.7l.4 2.6l.4 2.6l.4 2.3l.3 2.2l.3 2.2l.3 2.1l.5 2.2l.6 2.3l.6 2.4l.8 2.4l.7 2.1l.6 1.9l.5 1.5l.4 1.3l.4 1.1l.4 .9l.5 .7l.6 .4l.6 .2l.7 0l.7 -.1l.7 0l.8 -.1l.7 -.2l.8 -.2l.8 -.1l.9 .1l.9 .4l.9 .5l1.0 .7l1.0 .8l1.1 .9l1.2 1.2l1.5 1.3l1.4 1.4l1.4 1.4l1.1 1.4l.8 1.1l.7 1.1l.5 1.0l.5 1.2l.5 1.5l.5 1.9l.5 2.1l.5 2.2l.5 2.3l.5 2.0l.6 1.9l.6 1.8l.6 1.7l.7 1.6l.7 1.4l.7 1.2l.7 .9l.8 .8l.9 .8l1.1 .9l1.2 1.3l1.4 1.5l1.6 1.5l1.5 1.3l1.6 .8l1.7 .3l1.7 .1l1.8 -.3l1.7 -.6l1.5 -1.0l1.4 -1.5l1.3 -2.0l1.1 -2.3l1.2 -2.4l1.3 -2.3l1.4 -2.3l1.4 -2.4l1.5 -2.4l1.5 -2.2l1.6 -1.9l1.8 -1.6l1.8 -1.4l2.0 -1.2l1.9 -.9l2.0 -.5l1.9 -.1l2.1 .3l2.0 .6l1.9 .7l1.5 .6l1.2 .4l1.0 .3l.7 .4l.7 .4l.6 .6l.5 .6l.4 .8l.3 .7l.4 .8l.5 .6l.6 .6l.7 .5l.8 .4l.9 .4l1.2 .2l1.6 .2l1.8 .2l2.0 0l2.0 -.2l2.1 -.6l2.0 -1.1l2.2 -1.5l2.2 -1.7l2.1 -1.7l2.0 -1.3l1.9 -1.1l1.8 -1.0l1.7 -.9l1.6 -.5l1.4 -.1l1.1 .4l.9 .8l.7 1.1l.7 1.2l.8 1.1l.8 1.2l.9 1.3l.8 1.3l.9 1.2l.8 .9l.8 .5l.9 .2l.8 0l.7 .2l.6 .6l.3 .8l0 1.1l0 1.2l.1 1.5l.4 1.7l.9 2.0l1.1 2.3l1.3 2.4l1.3 2.5l1.3 2.3l1.2 2.2l1.3 2.2l1.3 2.1l1.2 2.0l1.3 2.0l1.3 2.1l1.3 2.0l1.3 1.9l1.3 1.8l1.1 1.7l1.0 1.6l.8 1.5l.7 1.3l.8 1.1l.9 .8l1.2 .6l1.2 .3l1.4 .1l1.3 -.3l1.2 -.7l1.2 -1.2l1.0 -1.8l1.1 -2.0l1.0 -2.2l1.0 -2.3l1.0 -2.3l1.1 -2.6l1.0 -2.7l.9 -2.5l.8 -2.0l.7 -1.6l.5 -1.1l.4 -.9l.4 -.9l.5 -1.2l.6 -1.5l.6 -1.6l.6 -1.8l.6 -1.7l.8 -1.8l.8 -1.8l.9 -1.8l1.0 -1.9l1.0 -1.9l1.1 -2.1l1.3 -2.3l1.3 -2.5l1.4 -2.5l1.4 -2.3l1.3 -1.9l1.4 -1.6l1.3 -1.3l1.3 -1.1l1.2 -.8l1.2 -.5l.9 -.3l.9 0l.8 .3l.8 .4l.8 .7l.8 .9l.9 1.3l.9 1.4l.8 1.4l.8 1.3l.6 1.0l.6 .9l.6 .9l.6 .8l.7 .6l.8 .3l1.0 .2l.9 .1l.8 .1l.7 .3l.3 .5l.1 .6l0 .6l.3 .7l.8 .8l1.5 .8l1.9 .8l2.2 .9l2.3 .9l2.2 .8l2.1 .6l2.3 .6l2.2 .5l1.9 .5l1.6 .5l.9 .5l.5 .5l.3 .6l.3 .4l.5 .5l.7 .4l.9 .3l.9 .4l.9 .4l.8 .6l.7 .8l.5 1.0l.6 1.0l.6 1.2l.7 1.3l.9 1.4l.9 1.5l1.1 1.6l1.1 1.6l1.3 1.7l1.5 1.6l1.6 1.8l1.7 1.7l1.8 1.6l1.8 1.2l1.9 1.0l2.0 .6l2.0 .5l1.9 .3l1.7 .2l1.3 .1l1.1 0l1.0 -.2l.9 -.3l.9 -.5l.8 -.8l.6 -1.1l.6 -1.1l.9 -1.1l1.3 -.7l2.1 -.5l2.6 -.3l2.9 -.1l2.7 .2l2.3 .7l1.8 1.3l1.5 1.8l1.4 2.2l1.3 2.2l1.4 1.9l1.5 1.8l1.7 1.7l1.6 1.6l1.5 1.7l1.5 1.7l1.3 1.7l1.1 1.7l1.2 1.8l1.1 1.6l1.1 1.6l1.3 1.4l1.3 1.5l1.2 1.3l1.3 1.1l1.3 1.0l1.1 .7l1.1 .6l1.1 .4l1.2 .2l1.3 -.3l1.6 -.6l1.8 -.9l1.9 -1.3l1.8 -1.4l1.8 -1.6l1.6 -1.9l1.7 -2.1l1.6 -2.2l1.5 -2.2l1.6 -2.1l1.4 -2.0l1.4 -2.0l1.4 -1.9l1.2 -1.9l1.3 -1.7l1.2 -1.7l1.1 -1.7l1.1 -1.6l.9 -1.3l.9 -1.1l.7 -.5l.4 0l.4 .1l.6 0l1.1 -.6l1.7 -1.3l2.1 -1.8l2.3 -2.0l2.3 -1.9l2.1 -1.4l1.7 -1.0l1.6 -.6l1.5 -.5l1.5 -.4l1.7 -.2l1.9 -.3l2.2 -.3l2.1 -.1l2.0 .2l1.7 .5l1.2 .9l.8 1.4l.8 1.5l.6 1.6l.8 1.5l.8 1.2l.8 1.1l.8 1.1l.9 1.3l.9 1.6l.9 2.0l1.1 2.3l1.1 2.5l1.1 2.4l1.0 2.4l1.1 2.2l1.0 2.2l1.1 2.2l1.0 2.0l1.1 1.9l1.0 1.5l1.0 1.4l1.1 1.2l1.0 1.1l1.1 1.1l1.3 1.0l1.3 .9l1.3 .9l1.3 .6l1.1 .3l1.0 0l.9 -.3l.8 -.5l.8 -.7l.7 -.6l.7 -.4l.6 -.4l.5 -.6l.6 -.7l.8 -1.2l.9 -1.7l1.0 -2.1l1.1 -2.4l1.1 -2.4l1.1 -2.3l1.3 -2.4l1.3 -2.4l1.3 -2.4l1.3 -2.2l1.1 -1.6l1.0 -.9l.9 -.4l.8 -.2l.7 -.1l.9 -.5l.7 -.8l.5 -1.1l.7 -1.2l.9 -1.0l1.4 -.7l2.0 -.3l2.5 .1l2.8 .2l2.7 .1l2.6 -.1l2.2 -.5l2.1 -.6l2.1 -.7l2.0 -.7l2.1 -.7l1.8 -.5l1.7 -.5l1.7 -.4l2.2 -.4l3.1 -.3l4.3 -.1l5.4 0l5.8 0l5.4 .1l4.3 0l3.1 0l2.3 0l1.8 0l1.6 0l1.7 0l1.9 .2l1.8 .3l1.7 .3l1.6 .2l1.4 .1l1.3 0l1.0 -.1l1.0 -.1l1.0 -.4l1.0 -.5l.9 -.8l.9 -1.2l.9 -1.2l1.1 -1.2l1.4 -.8l2.0 -.6l2.4 -.5l2.5 -.3l2.5 .1l2.2 .7l1.9 1.3l1.7 2.1l1.5 2.3l1.6 2.4l1.5 1.9l1.6 1.6l1.6 1.5l1.5 1.3l1.4 1.2l1.3 1.2l1.0 1.1l.8 1.1l.7 1.0l.7 .9l1.0 .7l1.1 .5l1.2 .2l1.3 .2l1.3 .1l1.4 0l1.5 .2l1.6 .1l1.6 0l1.5 0l1.1 -.3l.6 -.3l.2 -.5l0 -.6l.2 -.8l.7 -.9l1.3 -1.2l1.7 -1.5l1.9 -1.6l2.0 -1.6l1.9 -1.5l1.9 -1.3l2.0 -1.3l1.9 -1.2l1.9 -1.1l1.8 -.9l1.6 -.7l1.5 -.5l1.4 -.4l1.4 -.4l1.4 -.6l1.5 -.7l1.4 -.9l1.5 -.8l1.5 -.8l1.5 -.5l1.6 -.2l1.6 .1l1.7 .1l1.7 .1l1.8 -.1l1.8 -.6l1.9 -.7l1.9 -.8l2.0 -.8l1.9 -.7l1.9 -.6l2.0 -.5l2.0 -.4l1.8 -.4l1.7 -.2l1.5 -.1l1.3 0l1.2 .1l1.2 .2l1.1 .4l1.2 .7l1.1 .9l1.0 1.0l1.0 .9l1.0 .7l.9 .5l.8 .4l.8 .2l.8 .2l.9 .2l1.0 -.1l1.0 -.3l1.1 -.2l1.1 0l1.0 .6l1.1 1.2l1.0 1.8l1.0 2.1l1.1 2.2l1.1 2.1l1.2 2.2l1.2 2.3l1.3 2.4l1.3 2.2l1.3 1.9l1.3 1.5l1.3 1.3l1.3 1.1l1.3 1.0l1.1 1.0l1.0 .8l.8 .8l.8 .6l.7 .5l.9 .4l1.0 .2l1.1 .1l1.2 0l1.0 -.1l1.0 -.2l.6 -.1l.5 0l.5 -.2l.6 -.4l.9 -.8l1.4 -1.3l1.6 -1.8l1.9 -2.1l1.8 -2.0l1.7 -1.8l1.6 -1.5l1.4 -1.5l1.5 -1.3l1.4 -1.3l1.5 -1.3l1.5 -1.4l1.5 -1.5l1.5 -1.3l1.4 -1.2l1.4 -.9l1.3 -.6l1.2 -.2l1.2 -.1l1.3 0l1.3 0l1.6 -.1l1.5 -.1l1.7 0l1.8 0l1.8 .2l2.0 .3l2.1 .5l2.2 .6l2.2 .6l2.1 .5l1.9 .6l2.0 .5l1.9 .6l1.9 .7l1.7 .8l1.5 1.1l1.3 1.3l1.2 1.3l1.5 1.2l1.9 .8l2.5 .4l3.1 .2l3.2 0l3.2 -.2l2.7 -.4l2.2 -.8l2.0 -1.1l1.8 -1.3l1.7 -1.3l1.7 -1.2l1.7 -1.1l1.6 -1.1l1.5 -1.0l1.7 -.9l1.9 -.7l2.5 -.5l2.8 -.3l2.9 -.1l2.5 0l2.0 0l1.1 .1l.5 .2l.2 .3l.1 .4l.2 .5l.1 .7l.1 .9l0 1.0l.1 .9l.3 .7l.5 .3l.6 0l.7 -.1l.8 0l1.0 .4l1.0 .8l1.3 1.1l1.3 1.2l1.4 1.3l1.3 1.3l1.2 1.2l1.2 1.3l1.3 1.3l1.2 1.3l1.4 1.2l1.4 1.2l1.5 1.1l1.6 1.1l1.5 1.0l1.3 .9l1.3 .7l1.2 .7l1.1 .6l.9 .5l.8 .6l.4 .6l.1 .6l0 .6l.1 .5l.4 .4l.7 .3l.9 .3l1.1 .1l1.2 .1l1.4 .1l1.6 .1l1.9 .1l2.0 0l2.0 -.2l1.9 -.4l2.0 -.9l2.0 -1.1l1.9 -1.2l1.7 -1.4l1.3 -1.3l.6 -1.3l.2 -1.4l-.1 -1.4l.1 -1.3l.4 -1.4l1.0 -1.2l1.3 -1.2l1.5 -1.2l1.5 -1.1l1.5 -1.1l1.4 -1.1l1.5 -.9l1.4 -.9l1.5 -1.0l1.5 -1.2l1.5 -1.4l1.6 -1.7l1.5 -1.8l1.5 -1.7l1.3 -1.4l1.2 -1.2l1.0 -1.2l1.0 -1.0l.9 -.6l.7 -.2l.5 .5l.2 1.2l.1 1.3l.2 1.4l.5 .9l.9 .4l1.1 .1l1.3 0l1.1 .1l.8 .4l.4 .9l0 1.1l-.1 1.2l.1 1.1l.3 1.0l.6 .6l.8 .4l1.0 .3l1.1 .5l1.1 .9l1.1 1.4l1.3 1.8l1.3 2.0l1.3 1.9l1.3 1.7l1.2 1.5l1.2 1.4l1.2 1.3l1.3 1.1l1.4 1.1l1.6 .9l1.7 .7l1.8 .7l1.7 .5l1.6 .3l1.4 .1l1.4 -.2l1.2 -.2l1.2 -.4l1.1 -.3l.9 -.5l.6 -.6l.7 -.5l.8 -.4l1.2 -.1l1.7 .3l2.0 .7l2.2 .8l2.3 .8l2.3 .5l2.3 .3l2.5 .1l2.4 0l2.3 .1l2.1 .1l1.8 .3l1.5 .4l1.4 .4l1.4 .3l1.2 .1l1.2 -.2l1.0 -.3l1.0 -.5l1.0 -.5l1.1 -.6l1.3 -.6l1.4 -.6l1.4 -.6l1.2 -.7l1.0 -.6l.5 -.6l.2 -.4l.1 -.5l.2 -.7l.5 -1.0l.9 -1.6l1.1 -1.9l1.3 -2.2l1.3 -2.0l1.2 -1.8l1.1 -1.4l1.0 -1.2l1.1 -1.1l1.0 -.9l1.1 -.6l1.2 -.3l1.2 -.1l1.3 .2l1.3 .3l1.3 .5l1.4 .7l1.5 1.0l1.5 1.1l1.5 1.1l1.5 1.2l1.4 1.3l1.4 1.5l1.4 1.5l1.5 1.1l1.6 .4l1.8 -.3l1.9 -.9l2.0 -1.3l1.9 -1.4l1.9 -1.3l1.8 -1.1l1.7 -1.1l1.7 -1.2l1.5 -1.1l1.3 -1.2l.8 -1.2l.4 -1.2l.3 -1.2l.4 -1.2l.6 -1.1l.8 -1.0l.9 -1.1l1.1 -.9l1.1 -.9l1.3 -.7l1.5 -.6l1.6 -.5l1.8 -.4l1.7 -.1l1.8 .4l1.9 .8l1.9 1.4l1.9 1.7l2.0 1.6l1.8 1.4l1.8 1.2l1.7 1.1l1.7 1.1l1.6 .8l1.6 .6l1.6 .3l1.6 .1l1.6 -.2l1.4 -.3l1.2 -.5l.8 -.8l.5 -1.0l.4 -1.2l.5 -1.1l.9 -.7l1.3 -.6l1.6 -.5l1.8 -.3l1.8 0l1.9 .5l2.0 1.2l2.2 1.7l2.3 2.1l2.1 2.0l1.9 1.8l1.8 1.7l1.6 1.7l1.5 1.7l1.4 1.3l1.1 1.0l.9 .5l.5 0l.5 -.2l.5 -.3l.6 0l.8 .1l.9 .1l.9 .1l.9 .3l.7 .4l.5 .8l.3 1.1l.2 1.1l.4 1.0l.7 .7l1.0 .4l1.2 .3l1.3 .1l1.4 -.3l1.4 -.5l1.4 -1.1l1.4 -1.4l1.5 -1.8l1.5 -1.8l1.6 -1.7l1.7 -1.7l1.8 -1.8l1.9 -1.7l1.6 -1.7l1.4 -1.5l.8 -1.3l.4 -1.0l.2 -1.0l.4 -1.0l.7 -1.0l1.1 -1.0l1.3 -1.1l1.5 -1.0l1.5 -1.1l1.5 -1.0l1.4 -1.2l1.4 -1.3l1.4 -1.3l1.5 -1.0l1.7 -.5l1.9 .1l2.0 .7l2.2 .8l2.2 .9l2.2 .7l2.1 .4l2.1 .4l2.1 .2l2.4 .3l2.8 .2l3.6 0l4.4 -.2l4.4 -.2l3.8 0l2.8 .4l1.1 .7l0 .9l-.6 1.2l-.3 1.3l.4 1.3l1.4 1.5l1.8 1.7l2.2 1.7l2.3 1.6l2.2 1.3l2.1 1.0l2.2 .9l2.2 .8l2.1 .5l1.9 .4l1.6 .1l1.5 0l1.2 -.1l1.1 -.4l.9 -.5l.5 -.7l.1 -.9l0 -1.1l0 -1.1l.4 -1.0l.9 -1.1l1.1 -1.0l1.3 -1.1l1.1 -1.1l.9 -1.0l.4 -.9l.1 -.8l.1 -.8l.2 -.8l.7 -.9l1.1 -1.0l1.5 -1.1l1.8 -1.2l1.8 -1.1l1.7 -.8l1.8 -.7l1.9 -.6l1.9 -.4l1.7 -.3l1.6 -.1l1.2 .1l.9 .2l.8 .4l.8 .6l1.1 .8l1.3 1.0l1.6 1.4l1.5 1.4l1.6 1.4l1.4 1.1l1.2 .8l1.1 .7l1.0 .5l1.0 .4l.9 .3l.8 .3l.7 .1l.7 0l.9 -.1l1.1 -.3l1.6 -.5l1.9 -.8l2.0 -.9l2.1 -.9l1.9 -.7l1.8 -.5l1.8 -.5l1.8 -.5l1.6 -.3l1.4 -.3l1.2 -.1l1.0 0l.8 0l.7 .1l.5 0" fill="none" stroke="#e8302f" stroke-width="4.4" stroke-linecap="round" stroke-linejoin="round" stroke-dasharray="24.80 25.32 24.80 25.32 24.80 25.32 24.80 25.32 24.80 25.32 24.80 25.32 24.80 25.32 24.80 25.32 24.80 25.32 24.80 25.32 24.80 25.32 24.80 25.32 24.80 25.32 24.80 25.32 24.80 23.88 24.80 26.81 24.80 25.74 24.80 24.73 24.80 22.30 24.80 19.93 24.80 21.90 24.80 20.58 24.80 24.71 24.80 24.92 24.80 22.80 24.80 22.14 24.80 20.65 24.80 23.56 24.80 24.62 24.80 21.39 24.80 25.51 24.80 25.08 24.80 21.02 24.80 19.38 24.80 21.36 24.80 23.62 24.80 19.50 24.80 21.84 24.80 20.47 24.80 20.59 24.80 20.21 24.80 16.39 24.80 19.03 24.80 17.49 24.80 16.96 24.80 18.08 24.80 17.67 24.80 21.04 24.80 18.89 24.80 20.07 24.80 18.78 24.80 21.67 24.80 24.29 24.80 17.52 24.80 19.41 24.80 25.20 24.80 25.20"/>
<rect x="415.5" y="33.2" width="1370.2" height="992.0" fill="none" stroke="#292627" stroke-width="4.4"/>
<line x1="415.5" y1="915.0" x2="431.9" y2="915.0" stroke="#292627" stroke-width="4.1"/>
<text x="391.0" y="937.0" text-anchor="end">2</text>
<line x1="415.5" y1="804.8" x2="431.9" y2="804.8" stroke="#292627" stroke-width="4.1"/>
<text x="391.0" y="826.8" text-anchor="end">4</text>
<line x1="415.5" y1="694.5" x2="431.9" y2="694.5" stroke="#292627" stroke-width="4.1"/>
<text x="391.0" y="716.5" text-anchor="end">6</text>
<line x1="415.5" y1="584.3" x2="431.9" y2="584.3" stroke="#292627" stroke-width="4.1"/>
<text x="391.0" y="606.3" text-anchor="end">8</text>
<line x1="415.5" y1="474.1" x2="431.9" y2="474.1" stroke="#292627" stroke-width="4.1"/>
<text x="391.0" y="496.1" text-anchor="end">10</text>
<line x1="415.5" y1="363.9" x2="431.9" y2="363.9" stroke="#292627" stroke-width="4.1"/>
<text x="391.0" y="385.9" text-anchor="end">12</text>
<line x1="415.5" y1="253.6" x2="431.9" y2="253.6" stroke="#292627" stroke-width="4.1"/>
<text x="391.0" y="275.6" text-anchor="end">14</text>
<line x1="415.5" y1="143.4" x2="431.9" y2="143.4" stroke="#292627" stroke-width="4.1"/>
<text x="391.0" y="165.4" text-anchor="end">16</text>
<text x="391.0" y="55.2" text-anchor="end">18</text>
<line x1="689.5" y1="1025.2" x2="689.5" y2="1008.8" stroke="#292627" stroke-width="4.1"/>
<text x="689.5" y="1104.3" text-anchor="middle">40</text>
<line x1="963.6" y1="1025.2" x2="963.6" y2="1008.8" stroke="#292627" stroke-width="4.1"/>
<text x="963.6" y="1104.3" text-anchor="middle">80</text>
<line x1="1237.6" y1="1025.2" x2="1237.6" y2="1008.8" stroke="#292627" stroke-width="4.1"/>
<text x="1237.6" y="1104.3" text-anchor="middle">120</text>
<line x1="1511.7" y1="1025.2" x2="1511.7" y2="1008.8" stroke="#292627" stroke-width="4.1"/>
<text x="1511.7" y="1104.3" text-anchor="middle">160</text>
<text x="1785.7" y="1104.3" text-anchor="middle">200</text>
<text x="374.8" y="1104.3" text-anchor="middle">0</text>
<text x="1100.0" y="1200.5" text-anchor="middle">Time/ms</text>
<text transform="translate(276.6,528.5) rotate(-90)" text-anchor="middle">Displacement/mm</text>
<line x1="1069.0" y1="83.5" x2="1279.2" y2="83.5" stroke="#2c5aa8" stroke-width="4.4" stroke-linecap="round"/>
<text x="1303" y="104.2">M-6-600-0.2</text>
<line x1="1069.0" y1="158.8" x2="1279.2" y2="158.8" stroke="#3aa85c" stroke-width="4.4" stroke-linecap="round" stroke-dasharray="11.5 13.5"/>
<text x="1303" y="179.2">M-6-600-0.3</text>
<line x1="1069.0" y1="234.1" x2="1279.2" y2="234.1" stroke="#e8302f" stroke-width="4.4" stroke-linecap="round" stroke-dasharray="24.8 25.2"/>
<text x="1303" y="254.3">M-6-600-0.4</text>
<rect x="2138.3" y="33.2" width="1370.3" height="992.0" fill="none" stroke="#292627" stroke-width="4.4"/>
<clipPath id="clip2138"><rect x="2136.1000000000004" y="31.000000000000004" width="1374.7" height="996.4"/></clipPath>
<g clip-path="url(#clip2138)">
<path d="M2138.6,1025.0C2138.8,1023.3 2139.1,1019.2 2139.5,1015.0C2139.9,1010.8 2140.8,1004.8 2141.3,1000.0C2141.8,995.2 2142.1,992.7 2142.4,986.0C2142.7,979.3 2142.9,967.8 2143.1,960.0C2143.3,952.2 2143.3,952.6 2143.6,939.2C2143.9,925.8 2144.3,899.4 2144.8,879.5C2145.3,859.6 2145.9,839.6 2146.6,819.7C2147.2,799.8 2148.0,780.1 2148.7,760.0C2149.4,739.9 2150.0,719.1 2150.7,699.0C2151.4,678.9 2152.2,659.2 2153.0,639.3C2153.8,619.4 2154.8,594.5 2155.4,579.6C2156.0,564.7 2156.2,559.7 2156.6,549.7C2157.0,539.8 2157.6,529.9 2158.1,519.9C2158.6,509.9 2159.4,497.9 2159.8,490.0C2160.2,482.1 2160.1,481.2 2160.5,472.6C2161.0,463.9 2161.7,449.1 2162.4,438.1C2163.1,427.0 2163.7,415.9 2164.5,406.2C2165.3,396.5 2166.3,388.5 2167.2,379.6C2168.1,370.8 2168.9,361.9 2169.8,353.1C2170.7,344.2 2171.7,335.4 2172.5,326.5C2173.3,317.7 2174.2,306.5 2174.6,300.0C2175.0,293.5 2174.6,295.1 2175.1,287.7C2175.7,280.3 2176.7,265.6 2177.8,255.8C2178.9,246.1 2180.4,238.1 2181.8,229.3C2183.1,220.4 2184.4,211.6 2185.8,202.7C2187.1,193.9 2188.5,184.6 2189.7,176.2C2191.0,167.8 2192.1,159.4 2193.2,152.3C2194.3,145.2 2195.5,137.9 2196.4,133.7C2197.3,129.5 2197.8,128.4 2198.5,127.1C2199.2,125.8 2199.9,125.3 2200.6,125.8C2201.4,126.2 2202.3,127.5 2203.0,129.7C2203.8,131.9 2204.4,136.4 2205.1,139.0C2205.9,141.7 2206.8,144.6 2207.5,145.7C2208.3,146.8 2208.9,146.8 2209.6,145.7C2210.4,144.6 2211.0,140.8 2211.8,139.0C2212.6,137.3 2213.5,135.3 2214.4,135.0C2215.4,134.8 2216.6,136.7 2217.6,137.7C2218.6,138.7 2219.2,140.6 2220.3,141.1C2221.4,141.7 2223.0,140.6 2224.2,141.1C2225.5,141.7 2226.7,142.0 2227.7,144.3C2228.7,146.6 2229.4,150.1 2230.4,155.0C2231.3,159.8 2232.3,166.9 2233.5,173.5C2234.7,180.2 2236.2,188.6 2237.5,194.8C2238.8,201.0 2240.0,205.4 2241.5,210.7C2243.1,216.0 2245.3,222.7 2246.8,226.6C2248.4,230.5 2249.5,232.7 2250.8,234.1C2252.1,235.5 2253.5,234.5 2254.8,235.1C2256.1,235.8 2257.2,237.1 2258.8,237.8C2260.3,238.4 2262.3,239.3 2264.1,239.1C2265.8,238.9 2267.4,238.4 2269.4,236.7C2271.4,235.1 2273.6,232.5 2276.0,229.3C2278.5,226.1 2281.3,221.1 2284.0,217.3C2286.6,213.6 2289.5,209.5 2291.9,206.7C2294.4,203.9 2296.6,201.8 2298.6,200.6C2300.6,199.4 2301.9,199.0 2303.9,199.6C2305.9,200.1 2308.1,201.5 2310.5,204.1C2313.0,206.6 2316.1,211.8 2318.5,214.7C2320.9,217.6 2323.1,220.0 2325.1,221.3C2327.1,222.7 2328.7,223.1 2330.4,222.7C2332.2,222.2 2333.8,222.0 2335.8,218.7C2337.7,215.4 2340.2,209.4 2342.4,202.7C2344.6,196.1 2346.8,186.8 2349.0,178.8C2351.2,170.9 2353.2,162.7 2355.7,155.0C2358.2,147.2 2361.9,138.1 2364.0,132.4C2366.0,126.6 2366.4,123.8 2368.0,120.4C2369.5,117.1 2371.5,114.2 2373.3,112.5C2375.0,110.7 2376.8,109.6 2378.6,109.8C2380.4,110.0 2382.3,111.6 2383.9,113.8C2385.4,116.0 2386.5,118.9 2387.9,123.1C2389.2,127.3 2390.5,132.8 2391.9,139.0C2393.2,145.2 2394.5,153.2 2395.8,160.3C2397.2,167.3 2398.5,174.6 2399.8,181.5C2401.2,188.4 2402.5,195.4 2403.8,201.4C2405.1,207.4 2406.5,212.7 2407.8,217.3C2409.1,222.0 2410.4,226.3 2411.8,229.3C2413.1,232.3 2414.6,233.9 2415.8,235.1C2416.9,236.3 2417.4,236.5 2418.4,236.5C2419.4,236.4 2420.5,236.0 2421.6,234.6C2422.7,233.2 2423.8,231.5 2425.0,228.0C2426.3,224.4 2427.7,219.3 2429.0,213.4C2430.4,207.4 2431.7,199.6 2433.0,192.1C2434.3,184.6 2435.7,176.2 2437.0,168.2C2438.3,160.3 2439.6,151.9 2441.0,144.3C2442.3,136.8 2443.6,129.3 2445.0,123.1C2446.3,116.9 2447.6,111.8 2448.9,107.2C2450.3,102.5 2451.4,98.8 2452.9,95.2C2454.5,91.7 2456.7,87.9 2458.2,85.9C2459.8,83.9 2461.0,83.8 2462.2,83.3C2463.4,82.7 2464.3,82.5 2465.4,82.7C2466.5,83.0 2467.6,83.4 2468.8,84.6C2470.1,85.8 2471.3,87.0 2472.8,89.9C2474.4,92.8 2476.4,97.2 2478.1,101.9C2479.9,106.5 2481.7,112.0 2483.5,117.8C2485.2,123.5 2487.0,130.2 2488.8,136.4C2490.5,142.6 2492.3,149.2 2494.1,155.0C2495.8,160.7 2497.6,166.2 2499.4,170.9C2501.1,175.5 2503.1,180.1 2504.7,182.8C2506.2,185.6 2507.5,186.4 2508.7,187.3C2509.9,188.3 2510.5,189.0 2511.9,188.7C2513.2,188.4 2514.7,187.6 2516.6,185.5C2518.5,183.4 2520.8,179.5 2523.3,176.2C2525.7,172.9 2528.6,168.5 2531.2,165.6C2533.9,162.7 2537.0,160.5 2539.2,158.9C2541.4,157.4 2543.0,156.8 2544.5,156.3C2546.1,155.8 2547.2,155.3 2548.5,155.8C2549.8,156.2 2550.9,157.1 2552.5,158.9C2554.0,160.8 2555.8,164.0 2557.8,166.9C2559.8,169.8 2562.0,173.8 2564.4,176.2C2566.9,178.6 2570.0,180.1 2572.4,181.5C2574.8,182.9 2577.8,184.2 2579.0,184.7C2580.3,185.2 2579.2,184.4 2580.0,184.4C2580.8,184.3 2582.4,185.0 2583.8,184.4C2585.2,183.7 2586.9,182.6 2588.5,180.6C2590.0,178.6 2591.4,175.4 2593.2,172.1C2594.9,168.8 2596.9,164.5 2598.8,160.9C2600.7,157.3 2602.4,153.8 2604.4,150.5C2606.5,147.2 2609.0,143.7 2611.0,141.1C2613.1,138.5 2615.1,136.2 2616.7,134.9C2618.2,133.6 2619.0,133.1 2620.4,133.2C2621.8,133.3 2623.6,133.5 2625.1,135.5C2626.7,137.4 2628.1,141.0 2629.8,144.9C2631.6,148.8 2633.6,154.3 2635.5,159.0C2637.4,163.7 2639.2,168.7 2641.1,173.1C2643.0,177.5 2644.9,181.9 2646.8,185.3C2648.6,188.8 2650.5,191.6 2652.4,193.8C2654.3,195.9 2656.3,197.2 2658.0,198.1C2659.8,198.9 2660.7,198.9 2662.7,198.8C2664.8,198.7 2668.1,197.6 2670.3,197.5C2672.5,197.5 2674.2,198.3 2675.9,198.5C2677.6,198.6 2679.0,198.8 2680.6,198.5C2682.2,198.2 2683.4,198.0 2685.3,196.6C2687.2,195.2 2689.7,192.5 2691.9,190.0C2694.1,187.5 2696.3,184.8 2698.5,181.5C2700.7,178.3 2702.9,174.3 2705.0,170.3C2707.2,166.2 2709.4,161.2 2711.6,157.1C2713.8,153.0 2716.0,148.9 2718.2,145.8C2720.4,142.7 2722.8,140.2 2724.8,138.3C2726.8,136.4 2728.7,135.4 2730.4,134.5C2732.2,133.7 2733.6,133.2 2735.1,133.2C2736.7,133.2 2738.3,133.5 2739.8,134.5C2741.4,135.5 2742.8,136.7 2744.5,139.2C2746.3,141.7 2748.1,145.7 2750.2,149.6C2752.2,153.5 2754.4,158.0 2756.8,162.7C2759.1,167.4 2761.8,173.1 2764.3,177.8C2766.8,182.5 2769.3,187.0 2771.8,190.9C2774.3,194.9 2777.3,198.8 2779.3,201.3C2781.4,203.7 2782.6,204.7 2784.0,205.6C2785.4,206.6 2786.4,207.0 2787.8,206.9C2789.2,206.8 2790.8,206.3 2792.5,205.0C2794.2,203.8 2796.2,201.1 2798.1,199.4C2800.0,197.7 2801.6,195.9 2803.8,194.7C2806.0,193.5 2808.8,192.6 2811.3,192.4C2813.8,192.3 2816.0,193.2 2818.8,193.8C2821.6,194.3 2825.4,195.2 2828.2,195.6C2831.0,196.1 2833.5,196.7 2835.7,196.6C2837.9,196.4 2839.5,195.8 2841.4,194.7C2843.3,193.6 2845.1,192.5 2847.0,190.0C2848.9,187.5 2850.8,183.3 2852.7,179.7C2854.5,176.1 2856.4,171.8 2858.3,168.4C2860.2,164.9 2861.9,161.5 2863.9,159.0C2866.0,156.5 2868.3,154.5 2870.5,153.3C2872.7,152.1 2875.1,151.8 2877.1,151.8C2879.1,151.9 2880.7,152.2 2882.7,153.7C2884.8,155.2 2887.0,157.8 2889.3,160.9C2891.7,163.9 2894.5,169.0 2896.8,172.1C2899.2,175.3 2901.2,177.6 2903.4,179.7C2905.6,181.7 2908.0,183.4 2910.0,184.4C2912.0,185.4 2913.3,185.8 2915.7,185.7C2918.0,185.5 2921.1,184.4 2924.1,183.4C2927.1,182.4 2930.4,181.1 2933.5,179.7C2936.7,178.3 2939.8,176.7 2942.9,175.0C2946.1,173.2 2948.9,171.2 2952.3,169.3C2955.8,167.4 2959.8,165.7 2963.6,163.7C2967.4,161.7 2971.8,158.9 2974.9,157.5C2978.0,156.0 2980.2,155.4 2982.4,154.8C2984.6,154.3 2985.9,154.2 2988.0,154.3C2990.2,154.4 2992.7,154.8 2995.6,155.6C2998.4,156.4 3001.8,157.8 3005.0,159.0C3008.1,160.2 3011.9,161.9 3014.4,162.7C3016.9,163.6 3018.1,164.0 3020.0,164.3C3021.9,164.6 3023.7,164.8 3025.5,164.5C3027.4,164.2 3029.2,163.1 3031.1,162.6C3032.9,162.1 3034.7,161.6 3036.6,161.5C3038.4,161.4 3040.3,161.5 3042.1,162.1C3044.0,162.6 3045.8,163.6 3047.7,164.8C3049.5,166.1 3051.3,167.8 3053.2,169.8C3055.0,171.9 3056.9,174.3 3058.7,177.0C3060.6,179.7 3062.4,182.9 3064.2,185.9C3066.1,188.8 3067.9,192.1 3069.8,194.7C3071.6,197.3 3073.7,199.7 3075.3,201.3C3077.0,203.0 3078.4,204.0 3079.7,204.7C3081.0,205.4 3081.9,205.5 3083.1,205.4C3084.2,205.4 3085.3,205.1 3086.4,204.1C3087.5,203.2 3088.6,201.7 3089.7,199.7C3090.8,197.7 3091.9,194.9 3093.0,191.9C3094.1,189.0 3095.2,185.5 3096.3,182.0C3097.4,178.5 3098.5,174.6 3099.6,170.9C3100.8,167.2 3101.9,163.4 3103.0,159.9C3104.1,156.4 3105.2,153.0 3106.3,149.9C3107.4,146.9 3107.9,146.1 3109.6,141.6C3111.3,137.2 3114.7,127.0 3116.7,123.2C3118.6,119.5 3119.9,120.0 3121.4,119.1C3122.8,118.3 3123.9,118.0 3125.1,118.2C3126.4,118.3 3127.6,118.7 3128.9,119.9C3130.1,121.0 3131.2,122.8 3132.6,125.1C3134.0,127.4 3135.8,131.1 3137.3,133.6C3138.9,136.1 3140.3,138.5 3142.0,140.2C3143.8,141.8 3145.6,142.6 3147.7,143.6C3149.7,144.5 3152.2,145.1 3154.3,145.8C3156.3,146.5 3158.3,147.4 3159.9,147.7C3161.5,148.0 3162.3,148.2 3163.7,147.7C3165.1,147.2 3166.8,146.0 3168.4,144.9C3169.9,143.8 3171.7,141.9 3173.1,141.1C3174.5,140.3 3175.6,140.0 3176.8,140.2C3178.1,140.3 3179.0,140.6 3180.6,142.1C3182.2,143.5 3184.2,146.4 3186.2,148.6C3188.3,150.8 3190.6,153.4 3192.8,155.2C3195.0,157.0 3197.2,157.9 3199.4,159.4C3201.6,160.8 3203.9,162.5 3206.0,163.7C3208.0,164.8 3210.0,165.9 3211.6,166.1C3213.2,166.3 3214.1,165.9 3215.4,165.0C3216.6,164.1 3217.6,163.1 3219.1,160.9C3220.7,158.6 3222.9,154.6 3224.8,151.5C3226.7,148.3 3228.5,144.9 3230.4,142.1C3232.3,139.2 3234.2,137.0 3236.1,134.5C3237.9,132.0 3240.0,129.2 3241.7,127.0C3243.4,124.8 3244.8,122.7 3246.4,121.4C3248.0,120.0 3249.5,119.1 3251.1,118.9C3252.7,118.8 3254.1,118.9 3255.8,120.4C3257.5,121.9 3259.4,125.0 3261.4,128.0C3263.5,130.9 3265.8,134.7 3268.0,138.3C3270.2,141.9 3272.6,146.1 3274.6,149.6C3276.6,153.0 3278.4,156.0 3280.2,159.0C3282.1,162.0 3284.2,165.4 3285.9,167.4C3287.6,169.5 3289.0,170.4 3290.6,171.2C3292.2,172.0 3292.9,172.0 3295.3,172.1C3297.6,172.3 3301.2,172.1 3304.7,172.1C3308.1,172.2 3312.8,172.3 3316.0,172.5C3319.1,172.8 3321.3,173.4 3323.5,173.6C3325.7,173.9 3327.3,174.1 3329.1,174.0C3331.0,173.9 3332.9,173.7 3334.8,173.1C3336.7,172.5 3338.5,171.5 3340.4,170.3C3342.3,169.0 3344.2,167.4 3346.1,165.6C3347.9,163.7 3349.7,161.6 3351.7,159.0C3353.7,156.3 3356.1,152.7 3358.3,149.6C3360.5,146.4 3362.7,143.0 3364.9,140.2C3367.1,137.4 3369.3,134.5 3371.4,132.7C3373.6,130.8 3376.0,129.8 3378.0,128.9C3380.1,128.0 3381.8,127.4 3383.7,127.4C3385.5,127.3 3387.4,127.6 3389.3,128.5C3391.2,129.4 3393.1,130.9 3395.0,132.7C3396.8,134.4 3398.6,136.7 3400.6,139.2C3402.6,141.7 3405.0,145.0 3407.2,147.7C3409.4,150.4 3411.6,152.9 3413.8,155.2C3415.9,157.6 3418.3,159.9 3420.3,161.8C3422.4,163.7 3424.1,165.3 3426.0,166.5C3427.9,167.7 3429.7,168.4 3431.6,168.8C3433.5,169.1 3435.4,168.9 3437.3,168.4C3439.1,167.8 3440.9,167.0 3442.9,165.6C3444.9,164.1 3447.3,161.6 3449.5,159.9C3451.7,158.2 3453.9,156.4 3456.1,155.2C3458.3,154.1 3460.3,153.5 3462.6,153.0C3465.0,152.4 3467.3,152.1 3470.2,151.8C3473.0,151.6 3476.4,151.6 3479.6,151.5C3482.7,151.3 3486.2,151.2 3489.0,150.7C3491.8,150.2 3494.0,149.4 3496.5,148.6C3499.0,147.8 3501.8,146.4 3504.0,145.8C3506.2,145.2 3508.7,145.0 3509.7,144.9" fill="none" stroke="#2c5aa8" stroke-width="4.4" stroke-linecap="round" stroke-linejoin="round"/>
<path d="M2138.6,1025.0l.1 -1.3l.2 -1.7l.1 -2.2l.2 -2.3l.3 -2.5l.3 -2.7l.4 -3.0l.4 -3.1l.4 -3.2l.3 -3.0l.3 -2.7l.2 -2.4l.2 -2.5l.2 -2.8l.2 -3.6l.2 -4.5l.1 -5.3l.2 -5.6l.1 -5.5l.1 -5.1l.1 -3.9l.1 -2.9l.1 -3.1l.1 -4.3l.1 -6.6l.2 -9.4l.2 -11.7l.2 -12.8l.3 -13.2l.3 -12.6l.3 -12.0l.4 -11.9l.3 -12.0l.4 -11.9l.4 -12.0l.4 -11.9l.4 -11.9l.5 -11.9l.4 -12.0l.4 -12.0l.4 -12.1l.4 -12.3l.4 -12.2l.4 -12.3l.4 -12.1l.4 -12.0l.5 -12.0l.5 -11.9l.4 -11.9l.5 -11.9l.5 -12.4l.5 -12.9l.5 -12.7l.5 -11.7l.4 -10.0l.3 -7.9l.3 -6.2l.2 -5.3l.2 -5.0l.2 -5.5l.3 -6.0l.3 -5.9l.3 -6.0l.3 -5.9l.3 -6.0l.3 -6.2l.4 -6.4l.4 -6.2l.3 -5.9l.3 -5.2l.2 -4.0l.1 -3.1l.1 -2.7l.1 -3.3l.2 -4.3l.3 -5.9l.4 -6.8l.4 -7.4l.4 -7.4l.4 -7.0l.4 -6.7l.4 -6.5l.4 -6.5l.4 -6.2l.5 -6.0l.5 -5.7l.5 -5.3l.6 -5.2l.5 -5.1l.6 -5.3l.5 -5.3l.5 -5.3l.6 -5.3l.5 -5.3l.5 -5.3l.6 -5.3l.5 -5.3l.6 -5.3l.5 -5.3l.5 -5.4l.5 -5.5l.4 -5.7l.5 -5.6l.4 -5.2l.3 -4.5l.3 -3.3l.1 -2.3l.2 -2.0l.1 -2.4l.4 -3.6l.4 -5.1l.6 -6.2l.6 -6.6l.6 -6.6l.7 -6.1l.7 -5.3l.7 -5.1l.8 -4.9l.7 -4.9l.8 -5.0l.7 -5.1l.8 -5.2l.7 -5.1l.8 -5.0l.7 -4.8l.8 -4.5l.7 -4.2l.7 -4.0l.8 -4.2l.7 -4.3l.8 -4.9l.9 -5.1l.8 -5.2l.8 -4.8l.7 -3.9l.6 -3.1l.5 -2.5l.5 -2.0l.5 -1.7l.6 -1.4l.6 -1.1l.6 -.7l.7 -.5l.6 -.2l.7 -.1l.5 0l.6 .2l.5 .5l.5 .7l.5 1.2l.5 1.8l.4 2.3l.4 2.6l.4 2.7l.4 2.6l.4 2.8l.4 3.2l.4 3.0l.5 2.6l.5 1.7l.5 .5l.7 -.4l.6 -1.0l.7 -1.0l.6 -.8l.7 -.6l.6 -.8l.6 -.7l.7 -.4l.6 -.1l.7 .3l.7 .6l.7 .8l.7 1.1l.7 1.1l.7 1.3l.7 1.5l.6 1.6l.7 1.8l.7 1.8l.8 1.9l.7 2.1l.8 2.2l.7 2.2l.8 2.2l.6 2.3l.7 2.5l.7 2.4l.7 2.4l.7 2.4l.8 2.1l.8 2.0l.9 2.0l.8 2.1l.7 2.4l.6 2.7l.5 2.9l.4 3.1l.5 3.0l.6 2.9l.8 2.8l.8 2.7l.9 2.6l.8 2.6l.7 2.6l.6 2.5l.5 2.4l.5 2.4l.5 2.3l.6 2.3l.6 2.2l.7 2.1l.8 2.1l.7 2.0l.6 2.2l.6 2.3l.5 2.4l.6 2.3l.5 2.5l.5 2.5l.5 2.6l.6 2.7l.5 2.8l.6 2.6l.4 2.6l.5 2.4l.4 2.5l.4 2.4l.4 1.9l.2 1.4l.1 .3l-.1 -.6l-.1 -.8l0 -.4l.1 .5l.4 1.8l.5 2.5l.6 3.1l.6 3.1l.6 2.8l.4 2.4l.3 2.4l.3 2.3l.4 2.4l.4 2.4l.5 2.6l.5 2.7l.6 2.7l.6 2.7l.5 2.6l.4 2.5l.5 2.4l.4 2.4l.4 2.4l.4 2.2l.4 2.2l.4 2.1l.4 2.0l.4 2.1l.5 2.3l.6 2.5l.6 2.7l.7 2.8l.7 2.7l.6 2.5l.5 2.3l.5 2.1l.5 2.0l.5 2.1l.7 2.2l.7 2.3l.7 2.4l.9 2.5l.8 2.4l.8 2.3l.8 2.3l.8 2.2l.7 2.1l.8 2.1l.9 1.9l1.0 1.8l1.0 1.7l1.1 1.6l1.1 1.5l1.1 1.4l1.1 1.2l1.0 1.2l1.0 1.0l1.1 1.0l1.1 .9l1.3 .9l1.4 .9l1.3 .8l1.4 .5l1.3 .3l1.1 0l1.1 -.2l1.0 -.5l1.0 -.7l1.1 -.7l1.1 -.7l1.0 -.9l1.1 -.9l1.1 -1.2l1.0 -1.6l.9 -2.0l.9 -2.3l.9 -2.5l.9 -2.6l.9 -2.5l1.0 -2.4l1.0 -2.4l1.0 -2.4l1.0 -2.4l.8 -2.4l.6 -2.4l.5 -2.4l.5 -2.3l.5 -2.4l.5 -2.4l.8 -2.4l.8 -2.4l.9 -2.4l.8 -2.4l.7 -2.4l.5 -2.4l.3 -2.4l.3 -2.3l.3 -2.4l.5 -2.4l.6 -2.4l.7 -2.3l.7 -2.4l.8 -2.4l.6 -2.5l.6 -2.6l.5 -2.6l.5 -2.8l.5 -2.7l.6 -2.5l.7 -2.5l.8 -2.5l.8 -2.4l.9 -2.3l.8 -2.3l.8 -2.4l.9 -2.5l.9 -2.3l.8 -2.0l.6 -1.4l.2 -.4l.1 .3l0 .7l0 .3l.4 -.6l.6 -1.6l.8 -2.2l1.0 -2.7l.9 -2.8l.9 -2.6l.8 -2.4l.7 -2.4l.7 -2.4l.8 -2.4l.7 -2.3l.8 -2.4l.8 -2.4l.8 -2.4l.9 -2.4l1.0 -2.4l1.0 -2.5l1.2 -2.6l1.2 -2.5l1.3 -2.3l1.1 -2.0l1.1 -1.7l1.1 -1.3l1.1 -1.1l1.0 -.9l1.0 -.9l1.0 -.7l1.0 -.6l.9 -.5l.9 -.4l1.0 -.4l1.0 -.5l1.0 -.5l1.0 -.5l1.0 -.3l1.0 -.1l1.0 .2l1.0 .3l1.0 .5l.9 .7l.9 .7l.9 .8l.8 1.0l.8 1.1l.8 1.2l.7 1.2l.7 1.2l.7 1.2l.6 1.2l.6 1.4l.6 1.6l.5 1.9l.4 2.0l.4 2.2l.4 2.3l.4 2.3l.5 2.3l.6 2.3l.5 2.5l.6 2.4l.5 2.4l.4 2.4l.4 2.4l.4 2.4l.4 2.4l.5 2.4l.6 2.3l.6 2.4l.7 2.4l.7 2.4l.6 2.4l.5 2.4l.4 2.4l.3 2.4l.4 2.4l.5 2.3l.6 2.4l.6 2.4l.6 2.3l.7 2.4l.7 2.5l.7 2.6l.8 2.9l.8 2.8l.9 2.6l.8 2.4l.8 2.0l.8 1.7l.8 1.6l.8 1.4l.8 1.2l.7 1.3l.8 1.2l.7 1.0l.9 .5l.8 0l1.0 -.7l1.2 -1.4l1.1 -1.8l1.1 -2.0l.9 -2.0l.9 -2.2l.7 -2.3l.7 -2.5l.6 -2.5l.6 -2.5l.6 -2.4l.5 -2.3l.5 -2.4l.5 -2.4l.6 -2.4l.6 -2.6l.6 -2.7l.7 -2.7l.7 -2.7l.5 -2.6l.5 -2.5l.4 -2.4l.4 -2.3l.4 -2.4l.5 -2.4l.5 -2.4l.7 -2.3l.7 -2.4l.7 -2.4l.5 -2.4l.5 -2.4l.4 -2.4l.4 -2.4l.4 -2.4l.5 -2.4l.6 -2.3l.6 -2.4l.7 -2.3l.7 -2.4l.6 -2.5l.4 -2.6l.4 -2.6l.4 -2.7l.4 -2.7l.5 -2.7l.6 -2.7l.6 -2.7l.7 -2.6l.7 -2.7l.6 -2.6l.4 -2.4l.4 -2.4l.4 -2.3l.4 -2.4l.5 -2.4l.6 -2.5l.7 -2.5l.7 -2.6l.7 -2.6l.7 -2.5l.5 -2.4l.5 -2.4l.5 -2.5l.5 -2.3l.6 -2.3l.7 -2.3l.7 -2.3l.8 -2.3l.9 -2.0l.9 -1.7l1.0 -1.4l1.0 -1.2l1.1 -.9l1.1 -.7l1.1 -.6l1.1 -.4l1.0 -.1l1.1 0l1.0 .2l1.1 .3l1.1 .4l1.1 .6l1.1 .8l1.0 .8l1.0 .9l.9 .8l.7 .9l.8 1.0l.7 1.1l.9 1.5l1.0 1.7l1.1 2.0l1.1 2.2l1.1 2.3l1.0 2.4l.9 2.5l.9 2.7l.8 2.8l.7 2.7l.7 2.6l.6 2.2l.5 2.1l.5 2.0l.5 2.0l.6 2.3l.7 2.5l.8 2.7l.8 2.8l.9 2.7l.7 2.5l.7 2.4l.7 2.2l.6 2.1l.6 2.1l.6 1.9l.7 1.8l.7 1.7l.7 1.6l.7 1.5l.7 1.3l.6 1.2l.7 1.0l.7 .9l.7 1.0l.7 1.2l.8 1.7l.9 2.0l.9 2.0l1.0 2.0l.9 1.6l1.0 1.3l1.0 1.1l1.1 .9l1.1 .8l1.1 .7l1.2 .7l1.3 .7l1.3 .5l1.4 .2l1.5 -.2l1.7 -.8l1.8 -1.1l1.9 -1.4l2.0 -1.6l1.9 -1.8l1.9 -1.9l1.9 -2.1l1.9 -2.2l1.9 -2.3l1.7 -2.1l1.4 -2.0l1.3 -1.9l1.2 -1.8l1.2 -1.8l1.5 -1.8l1.6 -1.7l1.8 -1.7l1.9 -1.7l1.9 -1.5l2.1 -1.3l2.3 -1.2l2.4 -1.0l2.5 -.9l2.5 -.8l2.2 -.7l2.2 -.5l2.0 -.3l1.9 -.2l1.8 -.2l1.4 -.1l1.1 -.1l.7 -.2l.5 0l.7 .2l1.0 .6l1.5 1.3l1.7 1.8l1.9 1.9l2.0 2.0l2.0 1.7l2.0 1.3l2.1 1.1l2.1 1.0l2.1 1.0l2.1 1.2l2.0 1.5l2.0 1.7l1.9 1.6l1.8 1.6l1.7 1.1l1.3 .8l1.1 .6l1.1 .3l1.0 .2l1.1 0l1.2 -.1l1.1 -.4l1.3 -.4l1.4 -.7l1.6 -.6l2.0 -.9l2.4 -1.1l2.5 -1.2l2.3 -1.0l2.1 -.7l1.6 -.4l1.3 -.2l1.2 0l1.2 .1l1.3 .1l1.2 .1l1.3 .1l1.3 .1l1.3 .5l1.4 .7l1.7 1.2l1.8 1.7l1.8 1.8l1.7 1.7l1.5 1.5l1.2 1.2l.9 1.0l.8 .8l.9 .9l.9 .8l1.0 .8l.9 .8l1.0 .7l1.2 .7l1.5 .8l2.0 .7l2.4 .8l2.5 .8l2.4 .8l2.0 .6l1.7 .6l1.3 .6l1.3 .5l1.1 .5l1.2 .3l1.1 .2l1.0 .2l1.0 .1l1.1 -.1l1.4 -.4l1.9 -.9l2.2 -1.3l2.3 -1.4l2.2 -1.4l1.8 -1.2l1.3 -1.0l.9 -.9l.8 -.8l.8 -.8l.9 -.9l1.0 -.8l1.1 -.9l1.2 -.9l1.1 -1.1l1.2 -1.3l1.3 -1.9l1.4 -2.2l1.4 -2.3l1.3 -2.2l1.2 -1.8l1.1 -1.3l.9 -1.0l.9 -.8l.9 -.8l.9 -.8l.8 -.8l.8 -.6l.8 -.7l.9 -.7l1.4 -.9l1.9 -1.3l2.4 -1.5l2.5 -1.5l2.4 -1.4l2.1 -.9l1.7 -.5l1.4 -.1l1.3 .1l1.1 .2l1.1 .3l.9 .2l.6 .4l.7 .5l.6 .7l.9 1.0l1.2 1.5l1.4 1.9l1.5 2.1l1.3 2.1l1.2 1.8l.9 1.5l.8 1.4l.7 1.3l.7 1.2l.7 1.2l.7 1.0l.7 .9l.7 .9l.8 1.1l.8 1.3l1.1 1.9l1.2 2.2l1.2 2.4l1.2 2.3l1.0 2.0l.7 1.6l.6 1.4l.4 1.2l.5 1.2l.6 1.1l.7 1.0l.7 .8l.7 .7l.8 1.0l.9 1.2l.9 1.8l1.0 2.2l1.0 2.2l.9 2.3l.9 1.9l.6 1.6l.6 1.4l.5 1.2l.5 1.2l.6 1.2l.6 1.0l.6 .9l.6 .8l.7 1.0l.9 1.3l1.0 1.8l1.2 2.2l1.3 2.2l1.3 2.1l1.2 1.7l1.1 1.2l1.1 .9l1.1 .6l1.1 .6l1.2 .5l1.2 .5l1.2 .4l1.3 .4l1.3 .1l1.6 -.1l1.9 -.5l2.3 -.7l2.3 -.9l2.1 -1.0l1.7 -1.1l1.2 -1.0l.8 -1.1l.6 -1.2l.6 -1.1l.6 -1.2l.7 -1.0l.7 -1.0l.7 -1.0l.8 -1.2l.9 -1.4l1.0 -1.9l1.2 -2.2l1.2 -2.3l1.2 -2.1l1.0 -1.9l.9 -1.4l.8 -1.2l.7 -1.0l.7 -1.0l.7 -1.0l.6 -1.0l.7 -.9l.6 -1.0l.8 -1.0l1.0 -1.2l1.5 -1.5l1.7 -1.8l1.9 -1.8l1.8 -1.7l1.6 -1.3l1.3 -1.0l1.1 -.8l1.0 -.6l1.1 -.3l1.1 -.1l1.3 .3l1.2 .5l1.3 .9l1.4 1.0l1.4 1.1l1.6 1.3l1.8 1.7l1.7 1.7l1.8 1.6l1.6 1.2l1.4 .7l1.3 .5l1.3 .3l1.3 .2l1.3 .2l1.2 .1l1.2 .1l1.2 0l1.3 .1l1.6 0l2.1 .2l2.4 .3l2.5 .2l2.4 .1l1.9 -.2l1.5 -.5l1.2 -.7l1.0 -.8l.9 -.9l1.1 -.9l1.0 -.8l1.0 -.9l.9 -.9l1.2 -.9l1.5 -.8l2.0 -.6l2.3 -.6l2.5 -.5l2.4 -.5l2.1 -.4l1.6 -.4l1.4 -.4l1.2 -.3l1.2 -.3l1.2 -.1l1.1 -.2l.9 -.1l1.0 0l1.1 .2l1.5 .5l2.0 .8l2.3 1.3l2.5 1.4l2.4 1.2l2.1 .9l1.6 .5l1.4 .2l1.2 0l1.1 -.1l1.3 0l1.2 -.1l1.3 -.2l1.2 -.2l1.4 -.4l1.5 -.5l1.7 -.6l2.0 -.9l2.0 -.9l2.0 -.9l1.7 -1.0l1.3 -.9l1.2 -1.0l1.1 -.9l1.0 -1.0l1.0 -.9l1.0 -.8l.8 -.6l.9 -.7l.9 -.9l1.1 -1.1l1.3 -1.6l1.6 -1.9l1.5 -2.1l1.6 -1.9l1.5 -1.5l1.4 -1.1l1.3 -.8l1.3 -.6l1.3 -.5l1.3 -.4l1.2 -.5l1.2 -.4l1.2 -.2l1.4 -.2l1.6 0l2.0 .1l2.4 .3l2.5 .5l2.3 .4l2.1 .5l1.6 .5l1.4 .6l1.2 .6l1.2 .6l1.2 .6l1.1 .4l1.0 .3l1.1 .3l1.1 .5l1.3 .7l1.6 1.2l1.8 1.4l1.8 1.6l1.8 1.6l1.5 1.4l1.1 1.0l1.0 1.0l.9 .9l.8 .8l.9 1.0l.8 .9l.9 .9l.9 .9l.9 1.1l1.2 1.2l1.3 1.7l1.6 1.9l1.6 2.0l1.6 1.9l1.4 1.6l1.1 1.2l.9 1.0l.9 .8l.8 .8l1.0 .9l1.0 1.0l.9 1.0l1.1 1.0l1.2 .9l1.4 .8l1.8 .5l2.2 .5l2.3 .3l2.2 .2l1.9 0l1.5 -.2l1.4 -.5l1.2 -.5l1.2 -.6l1.2 -.7l1.4 -.6l1.3 -.5l1.3 -.7l1.3 -.8l1.3 -1.1l1.4 -1.6l1.3 -2.0l1.3 -2.1l1.3 -2.1l1.1 -1.6l.9 -1.3l.8 -1.0l.7 -.8l.7 -.8l.7 -.8l.7 -.9l.6 -.9l.7 -.9l.8 -.9l.9 -1.1l1.2 -1.4l1.3 -1.5l1.5 -1.7l1.4 -1.5l1.2 -1.5l1.1 -1.2l.9 -1.2l.9 -1.0l.9 -1.1l.9 -1.1l.9 -1.0l.9 -1.0l.8 -1.0l1.0 -1.2l1.1 -1.4l1.4 -2.1l1.5 -2.5l1.7 -2.6l1.6 -2.3l1.3 -1.8l1.1 -1.2l.9 -.7l.8 -.4l.9 -.3l1.0 -.2l1.2 -.3l1.1 -.2l1.3 0l1.4 .1l1.6 .4l1.9 .6l2.2 .8l2.3 1.1l2.2 1.1l1.8 1.1l1.3 1.0l1.0 1.1l.8 1.2l.8 1.2l.8 1.1l.7 1.1l.7 1.0l.7 1.0l.7 1.2l.9 1.3l1.1 1.7l1.3 2.0l1.4 2.0l1.4 1.8l1.4 1.4l1.3 .7l1.3 .4l1.3 .1l1.4 0l1.3 -.1l1.2 0l1.2 -.1l1.3 -.2l1.3 -.4l1.6 -.8l1.8 -1.3l2.0 -1.6l2.1 -1.8l2.2 -2.0l2.2 -1.8l2.3 -1.8l2.4 -2.1l2.4 -2.0l2.2 -1.6l2.0 -.9l1.6 -.2l1.4 .4l1.2 .8l1.2 .9l1.2 .9l1.2 .8l1.1 1.0l1.1 1.0l1.1 1.0l1.1 .9l1.1 .8l.9 .8l1.1 .7l1.1 .7l1.4 .8l1.9 .8l2.1 .8l2.3 .8l2.2 .7l1.9 .6l1.5 .4l1.4 .4l1.2 .2l1.2 0l1.3 0l1.2 -.3l1.3 -.3l1.2 -.5l1.4 -.6l1.5 -.8l1.7 -1.0l1.9 -1.4l2.0 -1.4l1.9 -1.3l1.9 -.9l1.6 -.5l1.5 -.2l1.5 -.1l1.5 0l1.4 -.1l1.3 -.3l1.2 -.4l1.3 -.3l1.3 -.1l1.5 .1l1.7 .5l2.0 .8l2.0 .9l2.0 1.0l1.7 1.0l1.3 .8l1.2 .9l1.0 .8l1.0 .9l1.1 .9l1.1 .8l1.0 .8l1.1 .8l1.1 .9l1.3 1.0l1.6 1.3l1.8 1.4l1.9 1.5l1.7 1.5l1.5 1.3l1.2 1.0l1.0 1.0l.8 .9l.8 .9l.9 .9l.9 .9l.8 .9l.8 .9l1.0 1.0l1.2 1.0l1.6 1.1l1.9 1.3l2.1 1.2l2.0 1.2l1.8 .8l1.6 .5l1.6 .2l1.5 .1l1.4 0l1.4 .1l1.4 .3l1.2 .4l1.2 .3l1.3 .2l1.5 -.2l1.8 -.6l1.9 -.9l2.0 -1.1l2.0 -1.1l1.7 -1.0l1.5 -.8l1.4 -.8l1.3 -.8l1.2 -.7l1.2 -.7l1.2 -.5l1.0 -.4l1.1 -.5l1.1 -.6l1.2 -.8l1.5 -1.2l1.5 -1.6l1.7 -1.7l1.5 -1.6l1.4 -1.4l1.1 -1.1l.9 -1.0l.9 -.8l.9 -.9l.9 -.9l.8 -1.1l.9 -1.0l.8 -1.1l1.0 -1.2l1.2 -1.3l1.4 -1.4l1.8 -1.7l1.8 -1.6l1.8 -1.6l1.6 -1.2l1.4 -.9l1.3 -.7l1.3 -.5l1.3 -.4l1.3 -.3l1.4 -.3l1.5 -.2l1.5 -.1l1.5 .1l1.6 .5l1.7 1.0l1.8 1.4l1.8 1.6l1.7 1.6l1.5 1.4l1.2 1.0l.9 .9l.8 .8l.8 .8l1.0 .8l1.0 .8l.9 .7l1.1 .7l1.2 .8l1.4 .7l1.9 .9l2.1 .9l2.3 .9l2.2 .9l1.9 .8l1.5 .7l1.3 .7l1.2 .6l1.2 .6l1.4 .6l1.4 .6l1.4 .6l1.5 .5l1.5 .5l1.7 .2l1.8 0l2.0 -.3l2.0 -.4l1.9 -.3l1.7 -.1l1.3 .1l1.2 .2l1.0 .3l1.0 .3l1.1 .2l1.0 .2l1.0 .1l.9 .1l1.2 0l1.6 0l2.1 -.2l2.5 -.2l2.8 -.3l2.6 -.4l2.2 -.4l1.6 -.5l1.4 -.7l1.1 -.6l1.2 -.7l1.3 -.7l1.4 -.7l1.4 -.8l1.4 -.8l1.6 -.7l1.7 -.8l2.0 -.8l2.2 -1.0l2.3 -.8l2.1 -.8l1.7 -.3l1.3 0l1.1 .3l.8 .4l.7 .6l.8 .5l.7 .5l.5 .4l.5 .6l.8 .6l1.3 .8l2.0 1.0l2.5 1.3l2.8 1.4l2.6 1.3l2.3 1.0l1.8 .6l1.6 .5l1.3 .3l1.4 .2l1.4 .3l1.5 .3l1.4 .4l1.5 .3l1.5 .1l1.7 0l1.8 -.4l2.0 -.6l2.1 -.7l1.9 -.8l1.6 -.5l1.1 -.4l.9 -.3l.8 -.3l.5 -.2l.4 -.1" fill="none" stroke="#3aa85c" stroke-width="4.4" stroke-linecap="round" stroke-linejoin="round" stroke-dasharray="11.50 13.42 11.50 13.42 11.50 13.42 11.50 13.42 11.50 13.42 11.50 13.42 11.50 13.42 11.50 13.42 11.50 13.42 11.50 13.42 11.50 13.42 11.50 13.42 11.50 13.42 11.50 13.42 11.50 13.42 11.50 13.42 11.50 13.42 11.50 13.42 11.50 13.42 11.50 13.42 11.50 13.42 11.50 13.42 11.50 13.42 11.50 13.42 11.50 13.42 11.50 13.42 11.50 13.42 11.50 13.42 11.50 13.42 11.50 13.42 11.50 13.42 11.50 13.42 11.50 13.42 11.50 13.42 11.50 13.42 11.50 13.42 11.50 13.42 11.50 13.82 11.50 14.77 11.50 14.77 11.50 11.85 11.50 14.65 11.50 14.65 11.50 14.65 11.50 11.49 11.50 13.12 11.50 12.37 11.50 13.22 11.50 14.67 11.50 13.61 11.50 13.21 11.50 14.46 11.50 12.49 11.50 16.07 11.50 14.51 11.50 12.82 11.50 13.44 11.50 12.89 11.50 12.91 11.50 14.81 11.50 13.00 11.50 13.22 11.50 14.36 11.50 13.01 11.50 14.29 11.50 14.27 11.50 13.83 11.50 12.56 11.50 13.45 11.50 13.34 11.50 13.44 11.50 13.80 11.50 14.42 11.50 14.02 11.50 13.54 11.50 12.11 11.50 14.99 11.50 13.88 11.50 13.57 11.50 13.84 11.50 13.40 11.50 14.80 11.50 14.27 11.50 11.50 11.50 14.72 11.50 13.06 11.50 13.39 11.50 13.38 11.50 13.94 11.50 13.34 11.50 13.98 11.50 13.28 11.50 14.15 11.50 13.64 11.50 12.32 11.50 13.80 11.50 14.25 11.50 12.91 11.50 13.81 11.50 13.07 11.50 12.58 11.50 12.58 11.50 16.70 11.50 12.29 11.50 13.70 11.50 12.87 11.50 12.87 11.50 13.65 11.50 13.50 11.50 13.16 11.50 13.65 11.50 12.78 11.50 13.39 11.50 13.09 11.50 13.82 11.50 14.40 11.50 12.91 11.50 13.25 11.50 12.26 11.50 15.26 11.50 12.11 11.50 13.86 11.50 13.50 11.50 13.50"/>
<path d="M2138.6,1025.0l.1 -1.3l.2 -1.7l.1 -2.2l.2 -2.3l.3 -2.5l.3 -2.7l.4 -3.0l.4 -3.1l.4 -3.2l.3 -3.0l.3 -2.7l.2 -2.4l.2 -2.5l.2 -2.8l.2 -3.6l.2 -4.5l.1 -5.3l.2 -5.6l.1 -5.5l.1 -5.1l.1 -3.9l.1 -2.9l.1 -3.1l.1 -4.3l.1 -6.6l.2 -9.4l.2 -11.7l.2 -12.8l.3 -13.2l.3 -12.6l.3 -12.0l.4 -11.9l.3 -12.0l.4 -11.9l.4 -12.0l.4 -11.9l.4 -11.9l.5 -11.9l.4 -12.0l.4 -12.0l.4 -12.1l.4 -12.3l.4 -12.2l.4 -12.3l.4 -12.1l.4 -12.0l.5 -12.0l.5 -11.9l.4 -11.9l.5 -11.9l.5 -12.4l.5 -12.9l.5 -12.7l.5 -11.7l.4 -10.0l.3 -7.9l.3 -6.2l.2 -5.3l.2 -5.0l.2 -5.5l.3 -6.0l.3 -5.9l.3 -6.0l.3 -5.9l.3 -6.0l.3 -6.2l.4 -6.4l.4 -6.2l.3 -5.9l.3 -5.2l.2 -4.0l.1 -3.1l.1 -2.7l.1 -3.3l.2 -4.3l.3 -5.9l.4 -6.8l.4 -7.4l.4 -7.4l.4 -7.0l.4 -6.7l.4 -6.5l.4 -6.5l.4 -6.2l.5 -6.0l.5 -5.7l.5 -5.3l.6 -5.2l.5 -5.1l.6 -5.3l.5 -5.3l.5 -5.3l.6 -5.3l.5 -5.3l.5 -5.3l.6 -5.3l.5 -5.3l.6 -5.3l.5 -5.3l.5 -5.4l.5 -5.3l.4 -5.4l.5 -5.4l.4 -5.3l.3 -5.1l.2 -4.8l0 -4.6l-.1 -4.5l.1 -4.4l.3 -4.6l.6 -4.7l.8 -4.8l.9 -4.8l.9 -4.8l.8 -4.8l.8 -4.9l.8 -5.1l.8 -4.9l.8 -4.7l.8 -4.3l.8 -3.8l.9 -3.3l.8 -3.1l.8 -2.9l.7 -2.8l.6 -2.7l.6 -2.4l.5 -2.3l.5 -2.3l.4 -2.3l.5 -2.4l.3 -2.3l.4 -2.4l.3 -2.4l.4 -2.4l.4 -2.8l.4 -2.9l.4 -2.9l.5 -2.6l.4 -2.1l.5 -1.5l.5 -1.1l.5 -.7l.6 -.5l.6 -.2l.6 0l.6 .1l.7 .5l.6 .8l.7 1.3l.5 1.9l.6 2.6l.6 2.8l.5 2.6l.4 2.0l.4 1.2l.3 .7l.2 .5l.3 .6l.4 1.0l.5 1.6l.5 1.9l.5 2.0l.6 2.0l.6 1.8l.5 1.6l.6 1.6l.6 1.4l.7 1.2l.7 .8l.9 .3l1.0 -.2l1.1 -.3l.9 -.2l.9 .4l.8 1.0l.6 1.4l.6 1.7l.5 1.9l.7 2.0l.8 2.1l.8 2.3l.8 2.5l.8 2.5l.8 2.5l.7 2.6l.7 2.7l.7 2.7l.7 2.7l.6 2.6l.7 2.5l.6 2.4l.6 2.3l.6 2.4l.7 2.4l.8 2.3l.8 2.4l.8 2.4l.8 2.4l.8 2.4l.8 2.4l.9 2.4l.8 2.5l.8 2.3l.7 2.4l.6 2.1l.6 2.1l.5 2.1l.4 2.1l.5 2.2l.6 2.3l.5 2.4l.6 2.4l.5 2.4l.5 2.4l.5 2.5l.5 2.6l.4 2.5l.4 2.3l.3 1.8l.2 1.1l.1 .5l0 .2l.1 .5l.2 1.0l.3 1.4l.4 1.7l.5 1.9l.4 2.5l.5 3.1l.4 4.1l.3 5.0l.4 5.4l.4 5.1l.3 4.3l.4 3.3l.4 2.8l.3 2.5l.4 2.3l.4 2.4l.4 2.2l.4 2.0l.4 2.0l.5 2.5l.4 3.2l.5 4.4l.6 5.3l.5 5.7l.6 5.3l.5 4.5l.4 3.5l.5 2.8l.4 2.4l.4 2.2l.4 2.4l.3 2.3l.3 2.1l.3 2.1l.4 2.4l.6 3.1l.8 3.9l.9 4.8l1.1 4.9l1.0 4.8l.9 4.1l.8 3.3l.6 2.7l.6 2.4l.6 2.4l.6 2.5l.7 2.5l.6 2.3l.6 2.4l.7 2.8l.9 3.3l1.0 4.3l1.2 5.1l1.3 5.3l1.2 4.8l1.1 3.8l.9 2.5l.8 1.7l.8 1.1l.7 .9l.8 1.0l.8 1.1l.8 1.0l.8 .9l.8 .7l.8 .3l.8 -.1l.8 -.4l.9 -.6l.8 -.8l.7 -.8l.5 -.6l.3 -.5l.3 -.7l.6 -1.3l.9 -2.2l1.5 -3.6l2.0 -4.7l2.2 -5.2l2.0 -4.9l1.6 -4.2l1.1 -3.0l.9 -2.5l.6 -2.1l.6 -2.1l.8 -2.2l.8 -2.2l.9 -2.0l.9 -2.1l.9 -2.5l1.0 -3.1l1.0 -4.2l1.2 -5.1l1.1 -5.3l1.1 -5.0l.9 -4.3l.8 -3.4l.8 -2.8l.6 -2.4l.7 -2.3l.6 -2.4l.4 -2.3l.3 -2.1l.4 -2.1l.5 -2.4l1.0 -3.1l1.6 -4.0l2.1 -4.8l2.2 -5.1l2.2 -4.7l1.7 -3.9l1.3 -2.9l1.0 -2.1l.8 -1.8l.8 -1.7l.9 -2.1l1.1 -2.7l1.3 -3.1l1.2 -3.1l1.0 -2.6l.7 -1.8l.3 -.5l-.1 .7l-.3 1.0l-.1 .3l.4 -1.2l.9 -3.2l1.4 -4.6l1.5 -5.3l1.5 -5.1l1.3 -4.3l1.2 -3.3l1.1 -2.8l1.0 -2.4l1.0 -2.4l1.1 -2.4l1.0 -2.3l.9 -2.1l1.0 -2.2l1.1 -2.4l1.3 -3.0l1.6 -3.8l2.0 -4.7l2.0 -4.8l2.0 -4.4l1.7 -3.5l1.3 -2.4l1.1 -1.6l1.0 -1.2l1.0 -.8l.9 -.6l.9 -.5l.8 -.3l.7 .1l.8 .2l.8 .5l.8 .6l.8 1.0l.8 1.1l.8 1.3l.7 1.3l.6 1.2l.5 1.1l.4 1.3l.5 1.8l.7 2.5l.9 3.8l1.1 4.7l1.2 5.1l1.1 4.9l1.0 4.1l.8 3.3l.7 2.7l.6 2.5l.7 2.3l.6 2.5l.8 2.4l.7 2.2l.7 2.3l.8 2.6l.8 3.2l.9 4.1l.9 4.9l1.0 5.1l1.0 4.9l.9 4.1l.9 3.4l.7 2.8l.8 2.5l.8 2.3l.8 2.3l1.0 2.4l1.1 2.4l1.1 2.2l1.1 2.0l1.0 1.6l.9 1.3l.8 1.0l.8 .7l.7 .3l.8 -.1l.8 -.6l.8 -1.1l.8 -1.5l.8 -1.8l.8 -2.2l.7 -2.7l.7 -3.2l.7 -3.5l.7 -3.4l.7 -3.1l.6 -2.6l.6 -2.4l.7 -2.3l.6 -2.2l.6 -2.4l.7 -2.4l.5 -2.3l.6 -2.5l.7 -2.8l.7 -3.3l.9 -4.3l1.0 -5.1l1.0 -5.3l1.0 -5.0l.9 -4.2l.7 -3.1l.7 -2.5l.6 -2.1l.6 -2.0l.6 -2.3l.7 -2.4l.7 -2.3l.6 -2.4l.7 -2.8l.7 -3.3l.7 -4.3l.7 -5.1l.7 -5.3l.7 -5.0l.7 -4.2l.6 -3.2l.6 -2.4l.7 -2.1l.6 -2.0l.7 -2.3l.7 -2.6l.8 -2.6l.8 -2.8l.9 -2.7l.8 -2.5l.8 -2.7l.9 -2.8l.8 -2.6l.8 -2.2l.6 -1.7l.4 -.7l.2 -.1l.1 .3l.3 .2l.5 -.4l1.0 -1.2l1.2 -1.6l1.4 -1.8l1.4 -1.6l1.2 -1.2l.9 -.7l.9 -.4l.9 -.1l.8 0l1.0 .1l1.0 .2l1.0 .4l1.1 .5l1.1 .7l1.1 .9l1.1 1.1l1.1 1.5l1.1 1.6l1.0 1.5l1.0 1.4l.7 .9l.6 .5l.5 .6l.7 1.2l.9 2.1l1.4 3.7l1.7 5.0l1.8 5.4l1.7 5.0l1.4 4.0l.9 2.7l.7 1.9l.5 1.4l.5 1.3l.6 1.5l.7 1.7l.8 1.6l.8 1.6l.9 1.6l.8 1.5l.7 1.3l.6 1.1l.7 1.1l.8 1.2l1.2 1.4l1.5 1.6l1.8 1.9l1.9 2.0l2.1 1.7l1.9 1.3l2.0 .8l2.0 .4l2.0 .2l2.0 0l1.9 -.1l1.8 -.4l1.7 -.6l1.7 -.8l1.8 -.8l1.7 -.9l1.9 -.8l2.0 -.9l2.0 -.9l1.8 -1.0l1.6 -.9l1.3 -.9l.9 -.9l.8 -.9l1.0 -.9l1.3 -.9l1.8 -1.0l2.0 -1.0l2.3 -1.0l2.3 -.9l2.2 -.9l2.4 -.7l2.6 -.7l2.5 -.7l2.4 -.5l2.1 -.6l1.7 -.4l1.4 -.5l1.2 -.4l1.2 -.2l1.1 0l1.2 .1l1.1 .3l1.0 .5l1.0 .6l1.0 .6l1.1 .7l1.1 .8l1.0 .8l1.1 .9l1.1 .8l1.1 .7l1.2 .8l1.2 .8l1.0 .6l.8 .5l.1 .2l-.2 0l-.4 -.1l-.1 .1l.5 .6l1.3 1.1l1.8 1.5l2.1 1.7l2.2 1.7l2.0 1.5l2.1 1.3l2.2 1.3l2.2 1.1l2.1 1.0l1.8 .5l1.4 .2l1.0 -.1l1.0 -.4l1.0 -.5l1.2 -.7l1.5 -.7l1.7 -.9l1.8 -1.0l1.8 -1.1l1.7 -1.0l1.7 -1.0l1.6 -1.1l1.6 -1.1l1.7 -.9l1.9 -.6l1.9 -.2l2.0 .1l2.1 .2l2.1 .4l2.2 .5l2.3 .6l2.4 .9l2.4 .9l2.3 .9l1.9 .8l1.4 .7l1.1 .5l.9 .5l.9 .5l1.3 .3l1.6 .1l1.9 .1l1.9 0l2.0 -.1l2.0 -.1l2.0 -.2l2.0 -.3l2.0 -.3l2.2 -.4l2.2 -.3l2.3 -.4l2.5 -.4l2.5 -.5l2.5 -.4l2.4 -.6l2.3 -.6l2.3 -.8l2.3 -.7l2.1 -.8l1.9 -.9l1.6 -.8l1.5 -.9l1.3 -1.0l1.2 -.9l1.3 -1.1l1.4 -1.0l1.4 -1.1l1.3 -1.1l1.3 -1.2l1.2 -1.2l1.2 -1.2l1.2 -1.1l1.1 -1.3l1.1 -1.4l1.1 -1.6l1.1 -2.0l1.1 -2.2l1.2 -2.4l1.1 -2.4l1.1 -2.3l1.2 -2.2l1.2 -2.2l1.1 -2.2l1.1 -2.0l1.1 -1.7l.8 -1.5l.7 -1.2l.7 -1.1l.7 -1.0l.8 -.8l.9 -.9l.9 -.8l1.0 -.6l1.0 -.6l.9 -.3l1.0 -.3l.9 -.1l1.0 .1l.9 .1l.9 .2l.8 .2l.8 .3l.7 .4l.7 .4l.8 .5l.7 .6l.7 .5l.7 .7l.8 .8l.8 1.2l1.0 1.5l1.1 1.9l1.2 2.1l1.2 2.1l1.2 2.2l1.2 2.1l1.3 2.3l1.3 2.3l1.2 2.2l1.0 2.0l.8 1.6l.7 1.4l.6 1.2l.6 1.3l.7 1.4l.7 1.6l.8 1.8l.8 1.7l.7 1.7l.7 1.7l.6 1.5l.5 1.3l.5 1.4l.6 1.5l.7 1.8l.8 2.2l.9 2.4l1.0 2.6l1.0 2.6l1.0 2.4l.9 2.4l.9 2.5l.9 2.4l1.0 2.1l1.0 1.9l1.0 1.6l1.2 1.2l1.1 1.1l1.2 .9l1.1 .9l1.1 .8l1.2 .8l1.2 .7l1.1 .6l1.0 .3l1.0 0l1.0 -.1l.9 -.4l.9 -.4l.9 -.5l1.0 -.4l.9 -.4l.9 -.5l.9 -.7l1.0 -1.1l1.1 -1.6l1.1 -1.8l1.2 -2.1l1.1 -2.3l1.2 -2.2l1.1 -2.4l1.2 -2.6l1.2 -2.6l1.1 -2.5l1.0 -2.1l.9 -1.8l.7 -1.5l.7 -1.4l.7 -1.4l.8 -1.5l.9 -1.6l.9 -1.8l1.0 -1.8l1.0 -1.7l.9 -1.5l.7 -1.4l.6 -1.4l.6 -1.2l.8 -1.2l1.1 -1.0l1.5 -1.2l1.8 -1.2l2.0 -1.1l2.0 -.7l2.1 0l2.1 1.0l2.2 1.7l2.2 2.1l2.1 2.0l1.7 1.7l1.3 1.2l.9 .9l.8 .9l.8 .8l.9 .9l1.1 1.1l1.2 1.1l1.2 1.2l1.1 1.0l1.0 .9l.9 .6l.7 .4l.7 .4l.7 .2l.8 .2l.9 .3l1.0 .3l1.1 .2l1.2 0l1.4 -.4l1.7 -.8l1.8 -1.3l2.0 -1.4l2.0 -1.6l1.9 -1.5l2.1 -1.5l2.1 -1.6l2.1 -1.7l1.9 -1.5l1.6 -1.2l1.2 -.9l.9 -.7l.8 -.5l.6 -.4l.8 -.3l.9 -.2l1.0 -.1l.9 0l.9 .1l1.0 .2l1.1 .4l1.0 .4l1.1 .6l1.2 .7l1.3 .7l1.4 .8l1.6 .8l1.7 .9l1.8 .9l2.0 .9l2.2 1.1l2.5 1.3l2.5 1.2l2.6 1.0l2.4 .5l2.2 0l2.2 -.4l2.1 -.7l2.0 -.8l1.8 -.9l1.6 -.9l1.3 -1.2l1.2 -1.2l1.2 -1.2l1.3 -1.1l1.3 -1.2l1.3 -1.1l1.3 -1.2l1.4 -1.1l1.3 -1.1l1.2 -1.0l1.2 -1.0l1.2 -1.0l1.3 -.9l1.7 -.8l1.9 -.9l2.3 -.9l2.4 -.8l2.4 -.5l2.2 -.1l2.2 .5l2.2 1.0l2.2 1.3l2.0 1.2l1.8 1.1l1.5 .8l1.3 .8l1.2 .8l1.2 .7l1.4 .7l1.4 .6l1.6 .6l1.6 .6l1.5 .5l1.4 .5l1.3 .3l1.1 .3l1.1 .2l1.1 .1l1.0 0l.9 0l.8 0l.7 -.2l1.0 -.3l1.3 -.4l1.9 -.8l2.3 -1.1l2.4 -1.2l2.5 -1.0l2.2 -.6l2.1 -.1l2.0 .2l1.9 .4l1.8 .6l1.6 .8l1.4 .8l1.1 1.1l1.1 1.2l1.0 1.2l1.1 1.3l1.1 1.2l1.2 1.3l1.1 1.3l1.1 1.4l1.1 1.4l1.0 1.4l.8 1.4l.9 1.4l.9 1.7l1.1 2.0l1.3 2.5l1.5 2.9l1.6 3.1l1.6 2.8l1.5 2.4l1.4 1.8l1.3 1.6l1.3 1.2l1.3 1.0l1.3 .6l1.3 .3l1.3 -.1l1.3 -.4l1.4 -.5l1.3 -.4l1.3 -.4l1.4 -.5l1.3 -.5l1.3 -.6l1.3 -.7l1.2 -.7l1.2 -.8l1.1 -.9l1.1 -1.0l.8 -.9l.5 -.8l.3 -.8l.2 -.8l.3 -1.0l.6 -1.3l1.0 -1.5l1.2 -1.9l1.4 -1.9l1.5 -2.1l1.5 -2.0l1.4 -2.1l1.6 -2.2l1.6 -2.2l1.5 -2.1l1.4 -1.7l1.2 -1.3l1.1 -.9l1.1 -.7l1.1 -.8l1.1 -1.0l1.3 -1.4l1.4 -1.5l1.3 -1.6l1.4 -1.6l1.2 -1.4l1.1 -1.4l.9 -1.3l.9 -1.2l1.1 -1.3l1.3 -1.4l1.6 -1.8l1.9 -2.0l2.0 -2.0l2.1 -1.7l2.1 -1.0l2.3 -.2l2.4 .4l2.5 .8l2.2 .9l1.9 .9l1.5 1.0l1.2 1.0l1.0 1.1l.9 1.3l1.1 1.3l1.1 1.4l1.1 1.5l1.2 1.6l1.1 1.6l1.1 1.4l1.0 1.3l.9 1.1l1.0 1.1l1.0 1.1l1.4 1.0l1.6 1.2l1.9 1.2l2.1 1.2l2.1 .8l2.1 .3l2.1 -.3l2.2 -.8l2.2 -1.1l2.1 -1.3l1.7 -1.2l1.3 -1.1l.9 -1.3l.8 -1.4l.8 -1.3l.9 -1.4l1.1 -1.5l1.1 -1.5l1.2 -1.5l1.2 -1.5l1.0 -1.6l1.0 -1.6l.7 -1.6l.8 -1.7l1.0 -1.4l1.2 -1.2l1.7 -.8l2.0 -.7l2.2 -.4l2.3 -.1l2.2 .1l2.3 .6l2.4 1.0l2.3 1.3l2.3 1.2l2.0 1.2l1.6 1.0l1.3 1.0l1.2 1.1l1.2 1.0l1.2 1.0l1.4 1.0l1.4 1.2l1.3 1.1l1.3 1.0l1.2 .8l1.1 .5l1.0 .4l.9 .2l.9 .2l.8 .2l.7 .1l.6 .2l.6 .1l.7 -.1l1.2 -.3l1.6 -.8l2.0 -1.1l2.2 -1.3l2.3 -1.3l2.2 -1.2l2.3 -1.2l2.3 -1.2l2.4 -1.3l2.1 -1.1l1.8 -.8l1.4 -.7l1.1 -.4l.8 -.3l.9 -.1l.9 0l1.1 .2l1.1 .4l1.2 .6l1.1 .6l1.2 .6l1.1 .7l1.1 .7l1.1 .8l1.1 .8l1.2 .8l1.2 .7l1.1 .7l1.2 .7l1.3 1.0l1.4 1.2l1.6 1.6l1.8 2.0l1.8 2.2l1.9 2.1l1.7 1.9l1.8 1.7l1.8 1.7l1.7 1.6l1.7 1.4l1.5 1.1l1.3 .7l1.0 .4l1.0 .2l1.0 .1l1.3 .1l1.7 0l1.8 0l2.0 -.2l2.0 -.2l1.9 -.2l1.9 -.2l1.8 -.3l1.8 -.3l1.9 -.4l2.1 -.3l2.2 -.2l2.5 -.2l2.5 -.3l2.5 -.2l2.5 -.4l2.4 -.4l2.5 -.5l2.5 -.6l2.3 -.6l2.1 -.7l1.9 -.8l1.6 -.8l1.5 -.9l1.4 -1.0l1.5 -.8l1.5 -.9l1.6 -.8l1.4 -.9l1.5 -.8l1.5 -.8l1.5 -.6l1.4 -.6l1.4 -.6l1.6 -.7l1.7 -.8l1.8 -1.3l2.1 -1.5l2.1 -1.6l2.2 -1.5l2.1 -1.1l2.1 -.8l2.2 -.6l2.1 -.4l2.1 -.2l1.8 .1l1.7 .4l1.6 .7l1.4 .9l1.4 1.0l1.5 .8l1.5 .7l1.6 .6l1.6 .6l1.5 .7l1.3 .6l1.1 .6l1.1 .6l.9 .6l.8 .6l.8 .6l.6 .4l.3 .4l.3 .4l.6 .5l1.0 .9l1.6 1.3l2.1 1.7l2.2 1.8l2.3 1.7l2.2 1.6l1.9 1.3l2.0 1.3l1.9 1.1l1.9 1.0l1.7 .9l1.5 .8l1.3 .6l1.2 .5l1.3 .5l1.2 .5l1.4 .5l1.3 .5l1.4 .4l1.3 .3l1.2 .1l1.2 -.1l1.1 -.3l1.1 -.4l1.1 -.5l1.2 -.5l1.0 -.5l1.1 -.5l1.0 -.6l1.2 -.8l1.3 -1.0l1.5 -1.5l1.6 -1.7l1.8 -2.0l1.8 -1.9l1.8 -1.8l1.9 -1.7l2.0 -1.7l2.0 -1.6l1.9 -1.4l1.6 -1.1l1.2 -.7l1.0 -.4l.8 -.2l.8 0l.9 0l.9 .1l.9 .3l1.0 .3l.9 .5l1.0 .7l.9 .8l.9 .9l.9 1.1l1.0 1.1l1.0 1.2l1.0 1.1l1.1 1.0l1.1 1.2l1.1 1.3l1.3 1.6l1.4 1.9l1.4 2.2l1.6 2.3l1.5 2.2l1.6 2.1l1.7 1.9l1.8 1.9l1.8 1.7l1.7 1.5l1.5 1.1l1.3 .6l1.2 .2l1.0 0l1.0 -.2l1.1 -.3l1.2 -.3l1.1 -.4l1.1 -.6l1.1 -.7l1.2 -.8l1.1 -.9l1.2 -1.1l1.1 -1.2l1.1 -1.2l1.1 -1.2l1.1 -1.3l1.1 -1.5l1.0 -1.4l.9 -1.2l.6 -.8" fill="none" stroke="#e8302f" stroke-width="4.4" stroke-linecap="round" stroke-linejoin="round" stroke-dasharray="24.80 25.08 24.80 25.08 24.80 25.08 24.80 25.08 24.80 25.08 24.80 25.08 24.80 25.08 24.80 25.08 24.80 25.08 24.80 25.08 24.80 25.08 24.80 25.08 24.80 25.08 24.80 25.08 24.80 25.08 24.80 25.08 24.80 29.41 24.80 18.35 24.80 27.61 24.80 23.53 24.80 25.23 24.80 26.07 24.80 23.81 24.80 26.65 24.80 24.63 24.80 24.98 24.80 25.80 24.80 28.52 24.80 25.83 24.80 26.39 24.80 25.77 24.80 31.11 24.80 25.56 24.80 25.42 24.80 26.06 24.80 25.77 24.80 23.52 24.80 26.02 24.80 26.30 24.80 23.15 24.80 25.28 24.80 25.40 24.80 25.85 24.80 25.54 24.80 25.42 24.80 24.72 24.80 23.44 24.80 25.11 24.80 24.20 24.80 23.37 24.80 25.93 24.80 25.47 24.80 25.88 24.80 22.96 24.80 24.95 24.80 24.71 24.80 25.68 24.80 24.55 24.80 24.16 24.80 25.51 24.80 26.14 24.80 25.49 24.80 25.20 24.80 25.20"/>
</g>
<line x1="2138.3" y1="915.0" x2="2154.7" y2="915.0" stroke="#292627" stroke-width="4.1"/>
<text x="2113.8" y="937.0" text-anchor="end">2</text>
<line x1="2138.3" y1="804.8" x2="2154.7" y2="804.8" stroke="#292627" stroke-width="4.1"/>
<text x="2113.8" y="826.8" text-anchor="end">4</text>
<line x1="2138.3" y1="694.5" x2="2154.7" y2="694.5" stroke="#292627" stroke-width="4.1"/>
<text x="2113.8" y="716.5" text-anchor="end">6</text>
<line x1="2138.3" y1="584.3" x2="2154.7" y2="584.3" stroke="#292627" stroke-width="4.1"/>
<text x="2113.8" y="606.3" text-anchor="end">8</text>
<line x1="2138.3" y1="474.1" x2="2154.7" y2="474.1" stroke="#292627" stroke-width="4.1"/>
<text x="2113.8" y="496.1" text-anchor="end">10</text>
<line x1="2138.3" y1="363.9" x2="2154.7" y2="363.9" stroke="#292627" stroke-width="4.1"/>
<text x="2113.8" y="385.9" text-anchor="end">12</text>
<line x1="2138.3" y1="253.6" x2="2154.7" y2="253.6" stroke="#292627" stroke-width="4.1"/>
<text x="2113.8" y="275.6" text-anchor="end">14</text>
<line x1="2138.3" y1="143.4" x2="2154.7" y2="143.4" stroke="#292627" stroke-width="4.1"/>
<text x="2113.8" y="165.4" text-anchor="end">16</text>
<text x="2113.8" y="55.2" text-anchor="end">18</text>
<line x1="2412.4" y1="1025.2" x2="2412.4" y2="1008.8" stroke="#292627" stroke-width="4.1"/>
<text x="2412.4" y="1104.3" text-anchor="middle">40</text>
<line x1="2686.4" y1="1025.2" x2="2686.4" y2="1008.8" stroke="#292627" stroke-width="4.1"/>
<text x="2686.4" y="1104.3" text-anchor="middle">80</text>
<line x1="2960.5" y1="1025.2" x2="2960.5" y2="1008.8" stroke="#292627" stroke-width="4.1"/>
<text x="2960.5" y="1104.3" text-anchor="middle">120</text>
<line x1="3234.5" y1="1025.2" x2="3234.5" y2="1008.8" stroke="#292627" stroke-width="4.1"/>
<text x="3234.5" y="1104.3" text-anchor="middle">160</text>
<text x="3508.6" y="1104.3" text-anchor="middle">200</text>
<text x="2097.6" y="1104.3" text-anchor="middle">0</text>
<text x="2822.8" y="1200.5" text-anchor="middle">Time/ms</text>
<text transform="translate(1999.4,528.5) rotate(-90)" text-anchor="middle">Displacement/mm</text>
<line x1="2841.3" y1="608.8" x2="3051.5" y2="608.8" stroke="#2c5aa8" stroke-width="4.4" stroke-linecap="round"/>
<text x="3073.4" y="632.0">B-6-600-0.2</text>
<line x1="2841.3" y1="682.6" x2="3051.5" y2="682.6" stroke="#3aa85c" stroke-width="4.4" stroke-linecap="round" stroke-dasharray="11.5 13.5"/>
<text x="3073.4" y="705.6">B-6-600-0.3</text>
<line x1="2841.3" y1="756.4" x2="3051.5" y2="756.4" stroke="#e8302f" stroke-width="4.4" stroke-linecap="round" stroke-dasharray="24.8 25.2"/>
<text x="3073.4" y="779.2">B-6-600-0.4</text>
<text x="1012.4" y="1306" text-anchor="middle">(a) Mid-column impact</text>
<text x="2736" y="1306" text-anchor="middle">(b) Base-column impact</text>
</svg>
</body></html>
